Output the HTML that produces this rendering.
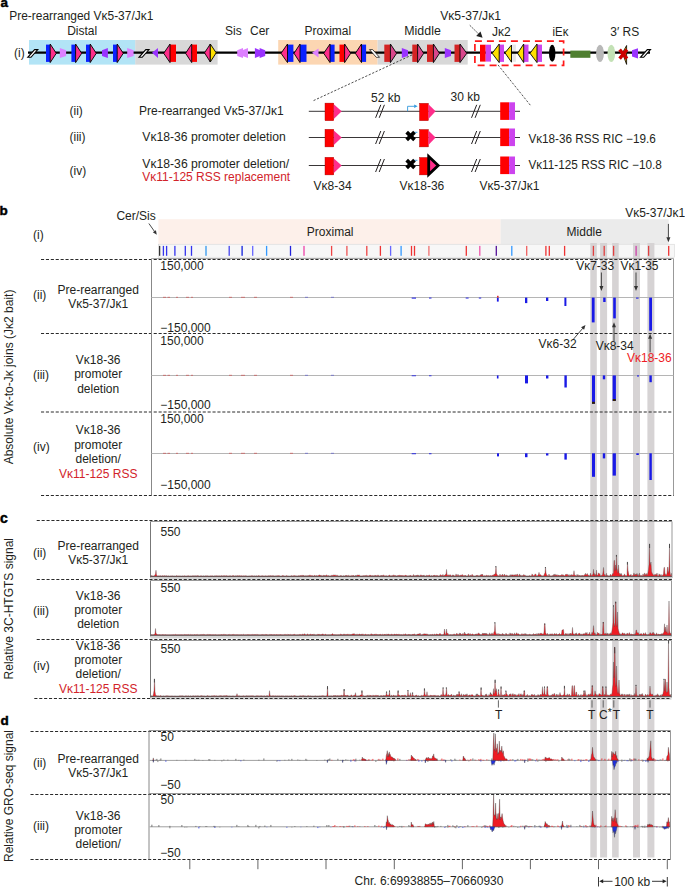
<!DOCTYPE html>
<html><head><meta charset="utf-8"><style>
html,body{margin:0;padding:0;background:#fff;width:685px;height:887px;overflow:hidden}
svg{display:block}
text{font-family:"Liberation Sans", sans-serif}
</style></head><body>
<svg width="685" height="887" viewBox="0 0 685 887">
<text x="0.5" y="7.4" font-size="13.5" fill="#000" font-weight="bold" stroke="#000" stroke-width="0.45">a</text>
<text x="9.3" y="20.3" font-size="12" fill="#231f20" textLength="144" lengthAdjust="spacingAndGlyphs">Pre-rearranged Vκ5-37/Jκ1</text>
<text x="67.2" y="35" font-size="12" fill="#231f20">Distal</text>
<text x="225" y="35.4" font-size="12" fill="#231f20">Sis</text>
<text x="250" y="35.4" font-size="12" fill="#231f20">Cer</text>
<text x="304.5" y="35.4" font-size="12" fill="#231f20">Proximal</text>
<text x="404.3" y="35.4" font-size="12" fill="#231f20" textLength="36.5" lengthAdjust="spacingAndGlyphs">Middle</text>
<text x="440.2" y="20.4" font-size="12" fill="#231f20" textLength="60.8" lengthAdjust="spacingAndGlyphs">Vκ5-37/Jκ1</text>
<text x="492" y="36.1" font-size="12" fill="#231f20">Jκ2</text>
<text x="552.6" y="36.1" font-size="12" fill="#231f20" textLength="15.8" lengthAdjust="spacingAndGlyphs">iEκ</text>
<text x="610.3" y="36.1" font-size="12" fill="#231f20">3′ RS</text>
<line x1="469.8" y1="25.3" x2="479.3" y2="34.6" stroke="#222" stroke-width="1.0" stroke-dasharray="1.4,1.3"/>
<polygon points="482.6,37.8 476.2,35.9 480.5,31.5" fill="#222"/>
<rect x="29" y="40" width="106.5" height="24.6" fill="#b2e4f6"/>
<rect x="135.3" y="40" width="82.3" height="24.6" fill="#d8d8d8"/>
<rect x="278.2" y="40" width="99.4" height="24.6" fill="#fcd6b2"/>
<rect x="377.6" y="40" width="90.1" height="24.6" fill="#d8d8d8"/>
<rect x="512.3" y="44.6" width="3.6" height="17.2" fill="#e6e6e6"/>
<line x1="28" y1="52.6" x2="650" y2="52.6" stroke="#000" stroke-width="2.2"/>
<polygon points="27.8,57.3 31,57.3 37.8,49.6 34.6,49.6" fill="#fff" stroke="#000" stroke-width="1.1" stroke-linejoin="miter"/>
<rect x="46" y="44.6" width="4.2" height="17.3" fill="#0a22ff"/>
<polygon points="50.2,44 56.3,53.3 50.2,62.6" fill="#ff2d8a" stroke="#000" stroke-width="0.9" stroke-linejoin="miter"/>
<polygon points="59.8,48.1 66.1,50.3 66.1,56 59.8,58" fill="#dd80ff"/>
<rect x="71.4" y="44.6" width="4.2" height="17.3" fill="#0a22ff"/>
<polygon points="75.6,44 81.7,53.3 75.6,62.6" fill="#ff2d8a" stroke="#000" stroke-width="0.9" stroke-linejoin="miter"/>
<rect x="86" y="44.6" width="4.2" height="17.3" fill="#0a22ff"/>
<polygon points="90.2,44 96.3,53.3 90.2,62.6" fill="#ff2d8a" stroke="#000" stroke-width="0.9" stroke-linejoin="miter"/>
<polygon points="102,50.3 107.9,48.1 107.9,58 102,56" fill="#9a33ff"/>
<rect x="113" y="44.6" width="4.2" height="17.3" fill="#0a22ff"/>
<polygon points="117.2,44 123.3,53.3 117.2,62.6" fill="#ff2d8a" stroke="#000" stroke-width="0.9" stroke-linejoin="miter"/>
<polygon points="127.2,48.1 133.6,50.3 133.6,56 127.2,58" fill="#dd80ff"/>
<polygon points="139,57.3 142.2,57.3 149,49.6 145.8,49.6" fill="#fff" stroke="#000" stroke-width="1.1" stroke-linejoin="miter"/>
<polygon points="152,52.8 158,48.1 158,58" fill="#9a33ff"/>
<rect x="170" y="44.6" width="6" height="17.3" fill="#ff0000"/>
<polygon points="170,44 163.7,53.3 170,62.6" fill="#ff2d8a" stroke="#000" stroke-width="0.9" stroke-linejoin="miter"/>
<rect x="191.7" y="44.6" width="5.3" height="17.3" fill="#ff0000"/>
<polygon points="191.7,44 185.6,53.3 191.7,62.6" fill="#ff2d8a" stroke="#000" stroke-width="0.9" stroke-linejoin="miter"/>
<polygon points="204.5,52.8 210.3,44 210.3,62" fill="#ff2d8a" stroke="#000" stroke-width="0.9" stroke-linejoin="miter"/>
<polygon points="210.3,44 216.2,52.8 210.3,62" fill="#ffe100" stroke="#000" stroke-width="0.9" stroke-linejoin="miter"/>
<polygon points="237.2,50.3 243,48.1 243,58 237.2,56" fill="#dd80ff"/>
<polygon points="242.4,50.3 248,48.1 248,58 242.4,56" fill="#dd80ff"/>
<polygon points="254.9,48.1 260.2,50.3 260.2,56 254.9,58" fill="#9a33ff"/>
<polygon points="259.6,48.1 265.2,50.3 265.2,56 259.6,58" fill="#9a33ff"/>
<rect x="287.5" y="44.6" width="5.9" height="17.3" fill="#0a22ff"/>
<polygon points="287.5,44 281,53.3 287.5,62.6" fill="#ff2d8a" stroke="#000" stroke-width="0.9" stroke-linejoin="miter"/>
<rect x="300" y="44.6" width="6.5" height="17.3" fill="#0a22ff"/>
<polygon points="300,44 294,53.3 300,62.6" fill="#ff2d8a" stroke="#000" stroke-width="0.9" stroke-linejoin="miter"/>
<polygon points="312,52.8 318.5,48.5 318.5,57.5" fill="#dd80ff"/>
<rect x="330" y="44.6" width="4.6" height="17.3" fill="#0a22ff"/>
<polygon points="330,44 323.7,53.3 330,62.6" fill="#ff2d8a" stroke="#000" stroke-width="0.9" stroke-linejoin="miter"/>
<rect x="339.5" y="44.6" width="5.1" height="17.3" fill="#ff0000"/>
<polygon points="344.6,44 350.7,53.3 344.6,62.6" fill="#ff2d8a" stroke="#000" stroke-width="0.9" stroke-linejoin="miter"/>
<rect x="361.5" y="44.6" width="4.6" height="17.3" fill="#0a22ff"/>
<polygon points="361.5,44 355.4,53.3 361.5,62.6" fill="#ff2d8a" stroke="#000" stroke-width="0.9" stroke-linejoin="miter"/>
<polygon points="369.5,49.6 372.7,49.6 379.5,57.3 376.3,57.3" fill="#fff" stroke="#000" stroke-width="0.7" stroke-linejoin="miter"/>
<rect x="384.3" y="44.6" width="6.1" height="17.3" fill="#d42424"/>
<polygon points="390.4,44 396.6,53.3 390.4,62.6" fill="#d9478c" stroke="#000" stroke-width="0.9" stroke-linejoin="miter"/>
<polygon points="401.8,48.1 408,50.3 408,56 401.8,58" fill="#9a33ff"/>
<rect x="412.3" y="44.6" width="5.3" height="17.3" fill="#d42424"/>
<polygon points="417.6,44 423.7,53.3 417.6,62.6" fill="#d9478c" stroke="#000" stroke-width="0.9" stroke-linejoin="miter"/>
<rect x="427" y="44.6" width="6.4" height="17.3" fill="#d42424"/>
<polygon points="433.4,44 439.5,53.3 433.4,62.6" fill="#d9478c" stroke="#000" stroke-width="0.9" stroke-linejoin="miter"/>
<polygon points="444.8,48.1 451,50.3 451,56 444.8,58" fill="#9a33ff"/>
<rect x="454.5" y="44.6" width="5.5" height="17.3" fill="#d42424"/>
<polygon points="460,44 466.8,53.3 460,62.6" fill="#d9478c" stroke="#000" stroke-width="0.9" stroke-linejoin="miter"/>
<rect x="480" y="44.7" width="5.7" height="16.9" fill="#ff0000"/>
<rect x="485.7" y="44.7" width="5.3" height="16.9" fill="#cc44ee"/>
<rect x="499.2" y="44.6" width="4.8" height="17.3" fill="#cc44ee"/>
<polygon points="499.2,44 492.2,53.3 499.2,62.6" fill="#ffe100" stroke="#000" stroke-width="0.9" stroke-linejoin="miter"/>
<polygon points="505,52.8 511.5,45 511.5,62.2" fill="#ffe100" stroke="#000" stroke-width="0.9" stroke-linejoin="miter"/>
<rect x="523.7" y="44.6" width="4.8" height="17.3" fill="#cc44ee"/>
<polygon points="523.7,44 517.6,53.3 523.7,62.6" fill="#ffe100" stroke="#000" stroke-width="0.9" stroke-linejoin="miter"/>
<rect x="537" y="44.6" width="5" height="17.3" fill="#cc44ee"/>
<polygon points="537,44 530,53.3 537,62.6" fill="#ffe100" stroke="#000" stroke-width="0.9" stroke-linejoin="miter"/>
<ellipse cx="552.2" cy="53.2" rx="3.2" ry="8.5" fill="#000"/>
<rect x="474.9" y="41.1" width="88.7" height="24.3" fill="none" stroke="#ff1a1a" stroke-width="1.7" stroke-dasharray="7,5"/>
<rect x="570.3" y="50.6" width="20.1" height="7.2" fill="#4f7f30"/>
<ellipse cx="600" cy="53.4" rx="3.9" ry="8.7" fill="#b8b8b8"/>
<ellipse cx="611.3" cy="53.4" rx="3.8" ry="8.7" fill="#c3e1b5"/>
<polygon points="622.4,53 626.6,45.5 626.6,64.4" fill="#f0b000" stroke="#000" stroke-width="0.8" stroke-linejoin="miter"/>
<line x1="619.6" y1="49.6" x2="627" y2="58.6" stroke="#cc0000" stroke-width="3.3"/>
<line x1="627" y1="49.6" x2="619.6" y2="58.6" stroke="#cc0000" stroke-width="3.3"/>
<polygon points="632,50.3 638,48.3 638,58.4 632,56.6" fill="#9a33ff"/>
<polygon points="640.5,57.3 643.7,57.3 650.5,49.6 647.3,49.6" fill="#fff" stroke="#000" stroke-width="1.1" stroke-linejoin="miter"/>
<line x1="412.1" y1="54.9" x2="313.1" y2="100.8" stroke="#222" stroke-width="0.8" stroke-dasharray="2.2,1.6"/>
<line x1="498" y1="64.9" x2="531.3" y2="106.4" stroke="#222" stroke-width="0.8" stroke-dasharray="2.2,1.6"/>
<line x1="308.8" y1="111.3" x2="520" y2="111.3" stroke="#231f20" stroke-width="0.9"/>
<rect x="325" y="103.1" width="8.8" height="17.6" fill="#ff0000" stroke="#900" stroke-width="0.4"/>
<polygon points="333.8,104.3 341.7,111.3 333.8,118.9" fill="#ff2d8a"/>
<line x1="375.6" y1="117.8" x2="380.8" y2="104.8" stroke="#231f20" stroke-width="1.0"/>
<line x1="379.2" y1="117.8" x2="384.4" y2="104.8" stroke="#231f20" stroke-width="1.0"/>
<line x1="471.5" y1="117.8" x2="476.7" y2="104.8" stroke="#231f20" stroke-width="1.0"/>
<line x1="475.1" y1="117.8" x2="480.3" y2="104.8" stroke="#231f20" stroke-width="1.0"/>
<rect x="419.5" y="103.3" width="8.9" height="17.4" fill="#ff0000" stroke="#900" stroke-width="0.4"/>
<polygon points="428.4,104.3 435.6,111.3 428.4,118.9" fill="#ff2d8a"/>
<rect x="500.2" y="102.3" width="8.9" height="17.6" fill="#ff0000"/>
<rect x="509.1" y="102.3" width="5.9" height="17.6" fill="#cc44ee"/>
<polyline points="407.6,111.3 407.6,106.3 414.5,106.3" fill="none" stroke="#3399dd" stroke-width="0.9"/>
<polygon points="417.6,106.3 414.2,104.5 414.2,108.1" fill="#3399dd"/>
<line x1="308.8" y1="137.5" x2="520" y2="137.5" stroke="#231f20" stroke-width="0.9"/>
<rect x="325" y="129.3" width="8.8" height="17.6" fill="#ff0000" stroke="#900" stroke-width="0.4"/>
<polygon points="333.8,130.5 341.7,137.5 333.8,145.1" fill="#ff2d8a"/>
<line x1="375.6" y1="144" x2="380.8" y2="131" stroke="#231f20" stroke-width="1.0"/>
<line x1="379.2" y1="144" x2="384.4" y2="131" stroke="#231f20" stroke-width="1.0"/>
<line x1="471.5" y1="144" x2="476.7" y2="131" stroke="#231f20" stroke-width="1.0"/>
<line x1="475.1" y1="144" x2="480.3" y2="131" stroke="#231f20" stroke-width="1.0"/>
<rect x="419.5" y="129.5" width="8.9" height="17.4" fill="#ff0000" stroke="#900" stroke-width="0.4"/>
<polygon points="428.4,130.5 435.6,137.5 428.4,145.1" fill="#ff2d8a"/>
<rect x="500.2" y="128.5" width="8.9" height="17.6" fill="#ff0000"/>
<rect x="509.1" y="128.5" width="5.9" height="17.6" fill="#cc44ee"/>
<polyline points="414.2,132.3 417.4,132.3" fill="none" stroke="#3399dd" stroke-width="0.9"/>
<line x1="406.7" y1="132.1" x2="414.5" y2="139.9" stroke="#000" stroke-width="3.7"/>
<line x1="406.7" y1="139.9" x2="414.5" y2="132.1" stroke="#000" stroke-width="3.7"/>
<line x1="308.8" y1="165.5" x2="520" y2="165.5" stroke="#231f20" stroke-width="0.9"/>
<rect x="325" y="157.3" width="8.8" height="17.6" fill="#ff0000" stroke="#900" stroke-width="0.4"/>
<polygon points="333.8,158.5 341.7,165.5 333.8,173.1" fill="#ff2d8a"/>
<line x1="375.6" y1="172" x2="380.8" y2="159" stroke="#231f20" stroke-width="1.0"/>
<line x1="379.2" y1="172" x2="384.4" y2="159" stroke="#231f20" stroke-width="1.0"/>
<line x1="471.5" y1="172" x2="476.7" y2="159" stroke="#231f20" stroke-width="1.0"/>
<line x1="475.1" y1="172" x2="480.3" y2="159" stroke="#231f20" stroke-width="1.0"/>
<rect x="419.5" y="157.5" width="8.9" height="17.4" fill="#ff0000" stroke="#900" stroke-width="0.4"/>
<polygon points="428.7,156.5 438.2,165.5 428.7,174.5" fill="#ff2d8a" stroke="#000" stroke-width="2.8" stroke-linejoin="miter"/>
<rect x="500.2" y="156.5" width="8.9" height="17.6" fill="#ff0000"/>
<rect x="509.1" y="156.5" width="5.9" height="17.6" fill="#cc44ee"/>
<polyline points="414.2,160.3 417.4,160.3" fill="none" stroke="#3399dd" stroke-width="0.9"/>
<line x1="406.7" y1="160.1" x2="414.5" y2="167.9" stroke="#000" stroke-width="3.7"/>
<line x1="406.7" y1="167.9" x2="414.5" y2="160.1" stroke="#000" stroke-width="3.7"/>
<text x="371" y="101.6" font-size="12" fill="#231f20">52 kb</text>
<text x="450.6" y="101.1" font-size="12" fill="#231f20">30 kb</text>
<text x="528.4" y="143.2" font-size="12" fill="#231f20" textLength="127.4" lengthAdjust="spacingAndGlyphs">Vκ18-36 RSS RIC −19.6</text>
<text x="528.4" y="169.2" font-size="12" fill="#231f20" textLength="133.5" lengthAdjust="spacingAndGlyphs">Vκ11-125 RSS RIC −10.8</text>
<text x="313.6" y="189.5" font-size="12" fill="#231f20">Vκ8-34</text>
<text x="399.6" y="189.5" font-size="12" fill="#231f20">Vκ18-36</text>
<text x="479.5" y="189.5" font-size="12" fill="#231f20">Vκ5-37/Jκ1</text>
<text x="14" y="57" font-size="12" fill="#231f20">(i)</text>
<text x="69.5" y="115" font-size="12" fill="#231f20">(ii)</text>
<text x="139" y="115.2" font-size="12" fill="#231f20">Pre-rearranged Vκ5-37/Jκ1</text>
<text x="69.5" y="140.8" font-size="12" fill="#231f20">(iii)</text>
<text x="142.3" y="141.2" font-size="12" fill="#231f20" textLength="143.4" lengthAdjust="spacingAndGlyphs">Vκ18-36 promoter deletion</text>
<text x="69.5" y="175" font-size="12" fill="#231f20">(iv)</text>
<text x="142.3" y="167.8" font-size="12" fill="#231f20" textLength="146.9" lengthAdjust="spacingAndGlyphs">Vκ18-36 promoter deletion/</text>
<text x="142.3" y="181.1" font-size="12" fill="#d2232a">Vκ11-125 RSS replacement</text>
<text x="-0.6" y="214.5" font-size="13.5" fill="#000" font-weight="bold" stroke="#000" stroke-width="0.45">b</text>
<text x="116.4" y="220.3" font-size="12" fill="#231f20">Cer/Sis</text>
<line x1="148.9" y1="223.5" x2="154.67" y2="231.68" stroke="#333" stroke-width="0.9"/>
<polygon points="156.8,234.7 152.83,232.36 155.93,230.17" fill="#333"/>
<text x="33" y="239.3" font-size="12" fill="#231f20">(i)</text>
<rect x="158.4" y="219.2" width="342.3" height="25" fill="#fdf0ea"/>
<rect x="500.7" y="219.2" width="168" height="25" fill="#ebebeb"/>
<text x="306.8" y="235.5" font-size="12" fill="#231f20">Proximal</text>
<text x="566.6" y="235.6" font-size="12" fill="#231f20">Middle</text>
<text x="625.2" y="216.9" font-size="12" fill="#231f20">Vκ5-37/Jκ1</text>
<line x1="668.4" y1="223.9" x2="668.4" y2="237.7" stroke="#333" stroke-width="0.9"/>
<polygon points="668.4,242.2 666.4,237.2 670.4,237.2" fill="#333"/>
<rect x="158.4" y="244.2" width="515.9" height="13" fill="#f7f7f7" stroke="#d0d0d0" stroke-width="0.5"/>
<rect x="590.3" y="243" width="6.5" height="614.5" fill="#d6d3d4"/>
<rect x="600.1" y="243" width="7" height="614.5" fill="#d6d3d4"/>
<rect x="612.1" y="243" width="6.6" height="614.5" fill="#d6d3d4"/>
<rect x="633" y="243" width="7" height="614.5" fill="#d6d3d4"/>
<rect x="647.4" y="243" width="7" height="614.5" fill="#d6d3d4"/>
<rect x="158.95" y="245.9" width="1.3" height="9.9" fill="#333"/>
<rect x="162.75" y="245.9" width="1.3" height="9.9" fill="#3333ee"/>
<rect x="165.95" y="245.9" width="1.3" height="9.9" fill="#3333ee"/>
<rect x="174.25" y="245.9" width="1.3" height="9.9" fill="#3333ee"/>
<rect x="184.65" y="245.9" width="1.3" height="9.9" fill="#3333ee"/>
<rect x="190.85" y="245.9" width="1.3" height="9.9" fill="#3333ee"/>
<rect x="205.35" y="245.9" width="1.3" height="9.9" fill="#3399ee"/>
<rect x="228.55" y="245.9" width="1.3" height="9.9" fill="#4444ee"/>
<rect x="241.45" y="245.9" width="1.3" height="9.9" fill="#1122dd"/>
<rect x="252.05" y="245.9" width="1.3" height="9.9" fill="#6666ff"/>
<rect x="265.95" y="245.9" width="1.3" height="9.9" fill="#3399ff"/>
<rect x="289.85" y="245.9" width="1.3" height="9.9" fill="#2222dd"/>
<rect x="303.35" y="245.9" width="1.3" height="9.9" fill="#ee44aa"/>
<rect x="330.95" y="245.9" width="1.3" height="9.9" fill="#ee4444"/>
<rect x="346.25" y="245.9" width="1.3" height="9.9" fill="#ee5555"/>
<rect x="366.15" y="245.9" width="1.3" height="9.9" fill="#ee4444"/>
<rect x="379.75" y="245.9" width="1.3" height="9.9" fill="#ee3333"/>
<rect x="389.95" y="245.9" width="1.3" height="9.9" fill="#6666ff"/>
<rect x="400.45" y="245.9" width="1.3" height="9.9" fill="#3399ff"/>
<rect x="410.85" y="245.9" width="1.3" height="9.9" fill="#ee3333"/>
<rect x="413.85" y="245.9" width="1.3" height="9.9" fill="#ee3333"/>
<rect x="428.25" y="245.9" width="1.3" height="9.9" fill="#f07070"/>
<rect x="465.65" y="245.9" width="1.3" height="9.9" fill="#ee3333"/>
<rect x="479.15" y="245.9" width="1.3" height="9.9" fill="#ee55aa"/>
<rect x="495.65" y="245.9" width="1.3" height="9.9" fill="#551199"/>
<rect x="511.15" y="245.9" width="1.3" height="9.9" fill="#3399ff"/>
<rect x="526.05" y="245.9" width="1.3" height="9.9" fill="#f06060"/>
<rect x="545.25" y="245.9" width="1.3" height="9.9" fill="#ee3333"/>
<rect x="548.65" y="245.9" width="1.3" height="9.9" fill="#ee3333"/>
<rect x="563.95" y="245.9" width="1.3" height="9.9" fill="#ee3333"/>
<rect x="592.75" y="245.9" width="1.3" height="9.9" fill="#e04040"/>
<rect x="603.55" y="245.9" width="1.3" height="9.9" fill="#e04040"/>
<rect x="612.95" y="245.9" width="1.3" height="9.9" fill="#e04040"/>
<rect x="635.45" y="245.9" width="1.3" height="9.9" fill="#cc44aa"/>
<rect x="647.95" y="245.9" width="1.3" height="9.9" fill="#e04040"/>
<rect x="668.05" y="245.9" width="1.3" height="9.9" fill="#ee3333"/>
<line x1="41" y1="259.5" x2="674" y2="259.5" stroke="#2a2a2a" stroke-width="1" stroke-dasharray="3.1,1.8"/>
<line x1="41" y1="333.5" x2="674" y2="333.5" stroke="#2a2a2a" stroke-width="1" stroke-dasharray="3.1,1.8"/>
<line x1="41" y1="412" x2="674" y2="412" stroke="#2a2a2a" stroke-width="1" stroke-dasharray="3.1,1.8"/>
<line x1="41" y1="495.5" x2="674" y2="495.5" stroke="#2a2a2a" stroke-width="1" stroke-dasharray="3.1,1.8"/>
<line x1="151.5" y1="258.5" x2="151.5" y2="495.5" stroke="#888" stroke-width="1"/>
<line x1="673.5" y1="258.5" x2="673.5" y2="495.5" stroke="#999" stroke-width="1"/>
<line x1="151.5" y1="258.5" x2="673.5" y2="258.5" stroke="#aaa" stroke-width="1"/>
<line x1="151.5" y1="297.5" x2="673.5" y2="297.5" stroke="#b5b5b5" stroke-width="1"/>
<line x1="151.5" y1="375.5" x2="673.5" y2="375.5" stroke="#b5b5b5" stroke-width="1"/>
<line x1="151.5" y1="453.5" x2="673.5" y2="453.5" stroke="#b5b5b5" stroke-width="1"/>
<text x="160.3" y="270.4" font-size="12" fill="#231f20">150,000</text>
<text x="160.3" y="345.3" font-size="12" fill="#231f20">150,000</text>
<text x="160.3" y="423" font-size="12" fill="#231f20">150,000</text>
<text x="160.3" y="331.6" font-size="12" fill="#231f20">−150,000</text>
<text x="160.3" y="409" font-size="12" fill="#231f20">−150,000</text>
<text x="160.3" y="489.4" font-size="12" fill="#231f20">−150,000</text>
<rect x="496.9" y="297.6" width="1.8" height="4" fill="#1a1ae6"/>
<rect x="525" y="297.6" width="2.3" height="5.5" fill="#1a1ae6"/>
<rect x="546" y="297.6" width="2.3" height="3.4" fill="#1a1ae6"/>
<rect x="564.4" y="297.6" width="2" height="8.4" fill="#1a1ae6"/>
<rect x="591.8" y="297.6" width="2.8" height="24.8" fill="#1a1ae6"/>
<rect x="603.2" y="297.6" width="2.4" height="4.4" fill="#1a1ae6"/>
<rect x="613.2" y="297.6" width="2.6" height="20.8" fill="#1a1ae6"/>
<rect x="636" y="297.6" width="2.6" height="1" fill="#1a1ae6"/>
<rect x="649.2" y="297.6" width="2.8" height="33.1" fill="#1a1ae6"/>
<rect x="411.7" y="297.6" width="4.3" height="1" fill="#1a1ae6"/>
<rect x="429" y="297.6" width="2.5" height="0.9" fill="#1a1ae6"/>
<rect x="465.7" y="297.6" width="2.9" height="0.9" fill="#1a1ae6"/>
<rect x="478.8" y="297.6" width="2.4" height="0.9" fill="#1a1ae6"/>
<rect x="497" y="295.8" width="1.6" height="1.8" fill="#e03030"/>
<rect x="496.9" y="375.4" width="1.6" height="3.1" fill="#1a1ae6"/>
<rect x="525" y="375.4" width="3" height="8" fill="#1a1ae6"/>
<rect x="546" y="375.4" width="2.4" height="3.1" fill="#1a1ae6"/>
<rect x="564.4" y="375.4" width="2.4" height="12.1" fill="#1a1ae6"/>
<rect x="592" y="375.4" width="3" height="28.4" fill="#1a1ae6"/>
<rect x="602.8" y="375.4" width="2.4" height="3.9" fill="#1a1ae6"/>
<rect x="612.6" y="375.4" width="3.3" height="25.6" fill="#1a1ae6"/>
<rect x="637" y="375.4" width="2" height="1.1" fill="#1a1ae6"/>
<rect x="649.4" y="375.4" width="2.4" height="6.8" fill="#1a1ae6"/>
<rect x="411.7" y="375.4" width="4.3" height="0.8" fill="#1a1ae6"/>
<rect x="429" y="375.4" width="2.5" height="0.8" fill="#1a1ae6"/>
<rect x="497" y="453.3" width="2" height="3.1" fill="#1a1ae6"/>
<rect x="525" y="453.3" width="2.5" height="3.9" fill="#1a1ae6"/>
<rect x="546" y="453.3" width="2.4" height="2.2" fill="#1a1ae6"/>
<rect x="564.4" y="453.3" width="2.4" height="6.3" fill="#1a1ae6"/>
<rect x="592" y="453.3" width="3" height="23.5" fill="#1a1ae6"/>
<rect x="602.8" y="453.3" width="2.4" height="5.1" fill="#1a1ae6"/>
<rect x="612.6" y="453.3" width="3.3" height="22.3" fill="#1a1ae6"/>
<rect x="636.3" y="453.3" width="2.5" height="1.7" fill="#1a1ae6"/>
<rect x="649.4" y="453.3" width="2.4" height="26.7" fill="#1a1ae6"/>
<rect x="411.7" y="453.3" width="4.3" height="0.9" fill="#1a1ae6"/>
<rect x="429" y="453.3" width="2.5" height="0.9" fill="#1a1ae6"/>
<rect x="163" y="296.8" width="3" height="1" fill="#d04040" opacity="0.6"/>
<rect x="167.5" y="296.8" width="2.5" height="1" fill="#d04040" opacity="0.6"/>
<rect x="176" y="296.8" width="2" height="1" fill="#d04040" opacity="0.6"/>
<rect x="186" y="296.8" width="3" height="1" fill="#d04040" opacity="0.6"/>
<rect x="191" y="296.8" width="2" height="1" fill="#d04040" opacity="0.6"/>
<rect x="229" y="296.8" width="3" height="1" fill="#d04040" opacity="0.6"/>
<rect x="241" y="296.8" width="4" height="1" fill="#d04040" opacity="0.6"/>
<rect x="254" y="296.8" width="3" height="1" fill="#d04040" opacity="0.6"/>
<rect x="290" y="296.8" width="3" height="1" fill="#d04040" opacity="0.6"/>
<rect x="305" y="296.8" width="3" height="1" fill="#5050d0" opacity="0.6"/>
<rect x="331" y="296.8" width="3" height="1" fill="#5050d0" opacity="0.6"/>
<rect x="163" y="374.8" width="3" height="1" fill="#d04040" opacity="0.6"/>
<rect x="167.5" y="374.8" width="2.5" height="1" fill="#d04040" opacity="0.6"/>
<rect x="176" y="374.8" width="2" height="1" fill="#d04040" opacity="0.6"/>
<rect x="186" y="374.8" width="3" height="1" fill="#d04040" opacity="0.6"/>
<rect x="191" y="374.8" width="2" height="1" fill="#d04040" opacity="0.6"/>
<rect x="229" y="374.8" width="3" height="1" fill="#d04040" opacity="0.6"/>
<rect x="241" y="374.8" width="4" height="1" fill="#d04040" opacity="0.6"/>
<rect x="254" y="374.8" width="3" height="1" fill="#d04040" opacity="0.6"/>
<rect x="290" y="374.8" width="3" height="1" fill="#d04040" opacity="0.6"/>
<rect x="305" y="374.8" width="3" height="1" fill="#5050d0" opacity="0.6"/>
<rect x="331" y="374.8" width="3" height="1" fill="#5050d0" opacity="0.6"/>
<rect x="163" y="452.8" width="3" height="1" fill="#d04040" opacity="0.6"/>
<rect x="167.5" y="452.8" width="2.5" height="1" fill="#d04040" opacity="0.6"/>
<rect x="176" y="452.8" width="2" height="1" fill="#d04040" opacity="0.6"/>
<rect x="186" y="452.8" width="3" height="1" fill="#d04040" opacity="0.6"/>
<rect x="191" y="452.8" width="2" height="1" fill="#d04040" opacity="0.6"/>
<rect x="229" y="452.8" width="3" height="1" fill="#d04040" opacity="0.6"/>
<rect x="241" y="452.8" width="4" height="1" fill="#d04040" opacity="0.6"/>
<rect x="254" y="452.8" width="3" height="1" fill="#d04040" opacity="0.6"/>
<rect x="290" y="452.8" width="3" height="1" fill="#d04040" opacity="0.6"/>
<rect x="305" y="452.8" width="3" height="1" fill="#5050d0" opacity="0.6"/>
<rect x="331" y="452.8" width="3" height="1" fill="#5050d0" opacity="0.6"/>
<rect x="592" y="401.8" width="2.9" height="2" fill="#332200"/>
<rect x="612.8" y="399" width="2.9" height="2" fill="#332200"/>
<text x="576.2" y="270.4" font-size="12" fill="#231f20">Vκ7-33</text>
<text x="620.5" y="270.4" font-size="12" fill="#231f20">Vκ1-35</text>
<line x1="601.4" y1="272.5" x2="601.4" y2="286.5" stroke="#333" stroke-width="0.9"/>
<polygon points="601.4,291 599.4,286 603.4,286" fill="#333"/>
<line x1="636" y1="272.5" x2="636" y2="286.5" stroke="#333" stroke-width="0.9"/>
<polygon points="636,291 634,286 638,286" fill="#333"/>
<line x1="573.5" y1="339.1" x2="582.9" y2="328.14" stroke="#333" stroke-width="0.9"/>
<polygon points="585.5,325.1 584.09,329.82 581.05,327.22" fill="#333"/>
<line x1="614" y1="341" x2="614" y2="326.7" stroke="#333" stroke-width="0.9"/>
<polygon points="614,322.2 616,327.2 612,327.2" fill="#333"/>
<line x1="650.1" y1="352.3" x2="650.1" y2="338.3" stroke="#333" stroke-width="0.9"/>
<polygon points="650.1,333.8 652.1,338.8 648.1,338.8" fill="#333"/>
<text x="538.6" y="347.5" font-size="12" fill="#231f20">Vκ6-32</text>
<text x="595.7" y="349.5" font-size="12" fill="#231f20">Vκ8-34</text>
<text x="627" y="362" font-size="12" fill="#ee1c24">Vκ18-36</text>
<text x="33" y="299" font-size="12" fill="#231f20">(ii)</text>
<text x="98.2" y="294.2" font-size="12" fill="#231f20" text-anchor="middle">Pre-rearranged</text>
<text x="98.2" y="308.3" font-size="12" fill="#231f20" text-anchor="middle">Vκ5-37/Jκ1</text>
<text x="33" y="378.5" font-size="12" fill="#231f20">(iii)</text>
<text x="98.2" y="364" font-size="12" fill="#231f20" text-anchor="middle">Vκ18-36</text>
<text x="98.2" y="378.4" font-size="12" fill="#231f20" text-anchor="middle">promoter</text>
<text x="98.2" y="392.5" font-size="12" fill="#231f20" text-anchor="middle">deletion</text>
<text x="33" y="451" font-size="12" fill="#231f20">(iv)</text>
<text x="98.2" y="434.2" font-size="12" fill="#231f20" text-anchor="middle">Vκ18-36</text>
<text x="98.2" y="448.6" font-size="12" fill="#231f20" text-anchor="middle">promoter</text>
<text x="98.2" y="462.8" font-size="12" fill="#231f20" text-anchor="middle">deletion/</text>
<text x="98.2" y="478.1" font-size="12" fill="#d2232a" text-anchor="middle">Vκ11-125 RSS</text>
<text x="12.9" y="377" font-size="12" fill="#231f20" text-anchor="middle" transform="rotate(-90 12.9 377)">Absolute Vκ-to-Jκ joins (Jκ2 bait)</text>
<text x="0.1" y="522.8" font-size="14" fill="#000" font-weight="bold" stroke="#000" stroke-width="0.45">c</text>
<text x="12.9" y="608.7" font-size="12" fill="#231f20" text-anchor="middle" transform="rotate(-90 12.9 608.7)">Relative 3C-HTGTS signal</text>
<line x1="150.5" y1="521.5" x2="150.5" y2="577.9" stroke="#777" stroke-width="1"/>
<line x1="150.4" y1="521.5" x2="672" y2="521.5" stroke="#999" stroke-width="1"/>
<line x1="672" y1="521.5" x2="672" y2="577.9" stroke="#999" stroke-width="1"/>
<rect x="150.4" y="576.9" width="521.6" height="2.8" fill="#d6d6d6"/>
<path d="M151,576.4 L151,575.88 L151.5,575.62 L152,575.86 L152.5,575.94 L153,575.81 L153.5,575.95 L154,575.95 L154.5,575.56 L155,575.12 L155.5,573.76 L156,570.2 L156.5,575.06 L157,575.61 L157.5,575.95 L158,575.89 L158.5,575.86 L159,575.87 L159.5,575.88 L160,575.56 L160.5,575.68 L161,575.92 L161.5,575.92 L162,575.73 L162.5,575.68 L163,575.6 L163.5,575.95 L164,575.63 L164.5,575.58 L165,575.95 L165.5,575.73 L166,575.95 L166.5,575.59 L167,575.95 L167.5,575.95 L168,575.71 L168.5,575.84 L169,575.94 L169.5,575.95 L170,575.95 L170.5,575.94 L171,575.58 L171.5,575.92 L172,575.94 L172.5,575.67 L173,575.95 L173.5,575.94 L174,575.73 L174.5,575.92 L175,575.95 L175.5,575.93 L176,575.91 L176.5,575.59 L177,575.83 L177.5,575.94 L178,575.63 L178.5,575.93 L179,575.75 L179.5,575.94 L180,575.65 L180.5,575.89 L181,575.95 L181.5,575.93 L182,575.93 L182.5,575.82 L183,575.94 L183.5,575.95 L184,575.84 L184.5,575.82 L185,575.63 L185.5,575.95 L186,575.88 L186.5,575.94 L187,575.84 L187.5,575.91 L188,575.58 L188.5,575.78 L189,575.94 L189.5,575.95 L190,575.77 L190.5,575.95 L191,575.87 L191.5,575.92 L192,575.95 L192.5,575.75 L193,575.75 L193.5,575.72 L194,575.91 L194.5,575.64 L195,575.89 L195.5,575.67 L196,575.81 L196.5,575.83 L197,575.95 L197.5,575.57 L198,575.76 L198.5,575.75 L199,575.89 L199.5,575.95 L200,575.95 L200.5,575.87 L201,575.77 L201.5,575.82 L202,575.93 L202.5,575.92 L203,575.94 L203.5,575.64 L204,575.89 L204.5,575.92 L205,575.94 L205.5,575.71 L206,575.66 L206.5,575.83 L207,575.95 L207.5,575.69 L208,575.77 L208.5,575.93 L209,575.88 L209.5,575.94 L210,575.81 L210.5,575.92 L211,575.58 L211.5,575.95 L212,575.66 L212.5,575.77 L213,575.92 L213.5,575.95 L214,575.88 L214.5,575.69 L215,575.94 L215.5,575.81 L216,575.81 L216.5,575.71 L217,575.78 L217.5,575.87 L218,575.95 L218.5,575.76 L219,575.93 L219.5,575.77 L220,575.82 L220.5,575.9 L221,575.64 L221.5,575.62 L222,575.95 L222.5,575.81 L223,575.9 L223.5,575.66 L224,575.61 L224.5,575.8 L225,575.76 L225.5,575.8 L226,575.94 L226.5,575.58 L227,575.85 L227.5,575.92 L228,575.67 L228.5,575.95 L229,575.85 L229.5,575.87 L230,575.71 L230.5,575.71 L231,575.91 L231.5,575.94 L232,575.86 L232.5,575.68 L233,575.61 L233.5,575.6 L234,575.94 L234.5,575.92 L235,575.8 L235.5,575.68 L236,575.92 L236.5,575.68 L237,575.94 L237.5,575.59 L238,575.84 L238.5,575.85 L239,575.82 L239.5,575.59 L240,575.9 L240.5,575.84 L241,575.78 L241.5,575.85 L242,575.6 L242.5,575.93 L243,575.95 L243.5,575.7 L244,575.87 L244.5,575.94 L245,575.62 L245.5,575.72 L246,575.94 L246.5,575.78 L247,575.91 L247.5,575.95 L248,575.95 L248.5,575.93 L249,575.85 L249.5,575.9 L250,575.85 L250.5,575.94 L251,575.8 L251.5,575.68 L252,575.67 L252.5,575.75 L253,575.64 L253.5,575.92 L254,575.94 L254.5,575.65 L255,575.93 L255.5,575.93 L256,575.69 L256.5,575.72 L257,575.9 L257.5,575.95 L258,575.78 L258.5,575.59 L259,575.86 L259.5,575.86 L260,575.94 L260.5,575.95 L261,575.84 L261.5,575.84 L262,575.94 L262.5,575.68 L263,575.62 L263.5,575.95 L264,575.88 L264.5,575.92 L265,575.86 L265.5,575.82 L266,575.77 L266.5,575.94 L267,575.75 L267.5,575.94 L268,575.86 L268.5,575.65 L269,575.77 L269.5,575.81 L270,575.82 L270.5,575.57 L271,575.93 L271.5,575.75 L272,575.7 L272.5,575.64 L273,575.77 L273.5,575.73 L274,575.76 L274.5,575.91 L275,575.95 L275.5,575.8 L276,575.93 L276.5,575.79 L277,575.79 L277.5,575.85 L278,575.56 L278.5,575.77 L279,575.58 L279.5,575.82 L280,575.93 L280.5,575.95 L281,575.9 L281.5,575.93 L282,575.85 L282.5,575.59 L283,575.56 L283.5,575.7 L284,575.82 L284.5,575.95 L285,575.94 L285.5,575.94 L286,575.82 L286.5,575.61 L287,575.85 L287.5,575.91 L288,575.8 L288.5,575.93 L289,575.92 L289.5,575.93 L290,575.94 L290.5,575.9 L291,575.74 L291.5,575.57 L292,575.95 L292.5,575.89 L293,575.58 L293.5,575.86 L294,575.76 L294.5,575.58 L295,575.82 L295.5,575.81 L296,575.94 L296.5,575.85 L297,575.89 L297.5,575.88 L298,575.83 L298.5,575.73 L299,575.56 L299.5,575.75 L300,575.94 L300.5,575.26 L301,575.83 L301.5,575.44 L302,575.58 L302.5,575.32 L303,575.9 L303.5,574.99 L304,575.95 L304.5,575.88 L305,575.54 L305.5,575.65 L306,575.94 L306.5,575.64 L307,575.82 L307.5,575.91 L308,575.34 L308.5,575.95 L309,575.22 L309.5,575.29 L310,575.77 L310.5,575.21 L311,575.49 L311.5,575.85 L312,575.34 L312.5,575.77 L313,575.94 L313.5,575.95 L314,575.62 L314.5,575.44 L315,575.28 L315.5,575.91 L316,575.95 L316.5,575.37 L317,575.88 L317.5,575.83 L318,575.82 L318.5,575.4 L319,574.98 L319.5,574.99 L320,575.23 L320.5,575.86 L321,574.94 L321.5,575.9 L322,575.82 L322.5,575.8 L323,575.92 L323.5,575.24 L324,575.16 L324.5,575.92 L325,575.06 L325.5,575.95 L326,575.64 L326.5,574.86 L327,575.23 L327.5,575.64 L328,575.94 L328.5,575.35 L329,575.94 L329.5,575.93 L330,575.5 L330.5,575.91 L331,575.67 L331.5,575.8 L332,574.86 L332.5,575.7 L333,575.38 L333.5,574.99 L334,575.18 L334.5,575.12 L335,575.17 L335.5,574.89 L336,575.67 L336.5,575.23 L337,575.78 L337.5,575.34 L338,575.81 L338.5,575.91 L339,575.87 L339.5,575.95 L340,575.94 L340.5,575.28 L341,575.95 L341.5,575.59 L342,575.95 L342.5,575.92 L343,575.9 L343.5,575.58 L344,575.92 L344.5,575.93 L345,575.86 L345.5,575.2 L346,575.89 L346.5,574.99 L347,575.64 L347.5,575.71 L348,575.95 L348.5,575.23 L349,575.66 L349.5,575.88 L350,575.48 L350.5,575.95 L351,575.82 L351.5,575.39 L352,575.93 L352.5,575.85 L353,575.09 L353.5,575.52 L354,575.89 L354.5,575.93 L355,575.95 L355.5,575.14 L356,575.95 L356.5,575.39 L357,575.72 L357.5,574.89 L358,575.12 L358.5,575.25 L359,574.98 L359.5,575.18 L360,575.64 L360.5,575.93 L361,575.86 L361.5,575.95 L362,575.73 L362.5,575.83 L363,575.94 L363.5,575.74 L364,575.17 L364.5,575.95 L365,575.4 L365.5,575.62 L366,575.95 L366.5,575.23 L367,575.55 L367.5,575.81 L368,575.87 L368.5,575.8 L369,575.89 L369.5,575.36 L370,574.92 L370.5,575.38 L371,575.18 L371.5,575.93 L372,575.45 L372.5,575.92 L373,575.16 L373.5,575.94 L374,575.93 L374.5,575.79 L375,574.97 L375.5,575.68 L376,575.3 L376.5,575.81 L377,575.78 L377.5,575.79 L378,574.83 L378.5,575.48 L379,575.95 L379.5,575.84 L380,575.94 L380.5,575.68 L381,575.18 L381.5,575.93 L382,575.02 L382.5,575.83 L383,575.93 L383.5,574.81 L384,575.39 L384.5,575.92 L385,575.53 L385.5,575.95 L386,575.6 L386.5,575.85 L387,575.83 L387.5,575.94 L388,575.94 L388.5,575.64 L389,575.62 L389.5,575 L390,575.2 L390.5,575.94 L391,575.87 L391.5,575.9 L392,575.17 L392.5,575.64 L393,575.95 L393.5,574.81 L394,575.48 L394.5,575.46 L395,575.81 L395.5,575.23 L396,575.92 L396.5,575.93 L397,575.61 L397.5,575.67 L398,575.61 L398.5,575.51 L399,575.46 L399.5,574.88 L400,575.73 L400.5,575.54 L401,575.31 L401.5,575.71 L402,575.16 L402.5,575.79 L403,575.62 L403.5,575.67 L404,575.77 L404.5,575.85 L405,575.37 L405.5,575.36 L406,575.33 L406.5,575.58 L407,575.94 L407.5,575.69 L408,575.95 L408.5,575.67 L409,575.86 L409.5,575.9 L410,575 L410.5,575.47 L411,575.78 L411.5,575.91 L412,575.61 L412.5,575.94 L413,575.94 L413.5,574.46 L414,575.87 L414.5,575.95 L415,575.2 L415.5,575.83 L416,575.95 L416.5,575.03 L417,575.7 L417.5,574.84 L418,575.91 L418.5,574.97 L419,575.92 L419.5,575.83 L420,575.93 L420.5,574.79 L421,575.52 L421.5,575.07 L422,575.94 L422.5,575.86 L423,575.09 L423.5,575.94 L424,574.93 L424.5,575.95 L425,575.86 L425.5,575.92 L426,575.9 L426.5,575.25 L427,575.48 L427.5,575.58 L428,575.87 L428.5,575.47 L429,575.51 L429.5,574.82 L430,575.66 L430.5,575.95 L431,575.88 L431.5,575.23 L432,575.88 L432.5,575.9 L433,575.64 L433.5,575.03 L434,575.95 L434.5,575.33 L435,574.95 L435.5,575.92 L436,575.5 L436.5,575.48 L437,575.68 L437.5,575.14 L438,575.67 L438.5,575.93 L439,575.93 L439.5,575.9 L440,574.77 L440.5,574.71 L441,575.52 L441.5,575.32 L442,575.95 L442.5,574.96 L443,574.41 L443.5,575.92 L444,575.51 L444.5,575.61 L445,574.68 L445.5,574.27 L446,574.93 L446.5,569.4 L447,574.16 L447.5,575.35 L448,575.45 L448.5,575.3 L449,574.6 L449.5,575.85 L450,575.03 L450.5,574.72 L451,575.66 L451.5,575.88 L452,575.95 L452.5,574.81 L453,575.92 L453.5,574.86 L454,575.86 L454.5,575.92 L455,575.8 L455.5,575.94 L456,573.89 L456.5,574.9 L457,575.85 L457.5,575.86 L458,574.17 L458.5,575.76 L459,575.25 L459.5,575.67 L460,575.95 L460.5,575.02 L461,575.3 L461.5,575.57 L462,574.52 L462.5,574.74 L463,575.75 L463.5,575.39 L464,575.89 L464.5,575.56 L465,575.6 L465.5,575.06 L466,575.89 L466.5,575.94 L467,575.73 L467.5,575.95 L468,575.84 L468.5,574.2 L469,575.83 L469.5,575.92 L470,575.73 L470.5,574.93 L471,575.95 L471.5,575.7 L472,574.37 L472.5,574.78 L473,575.95 L473.5,575.86 L474,575.92 L474.5,575.95 L475,575.63 L475.5,575.92 L476,575.84 L476.5,575.1 L477,575.89 L477.5,574.96 L478,575.69 L478.5,575.87 L479,575.75 L479.5,575.95 L480,575.2 L480.5,574.65 L481,575.8 L481.5,574.22 L482,575.03 L482.5,574.07 L483,575.86 L483.5,575.94 L484,575.68 L484.5,575.7 L485,575.5 L485.5,575.91 L486,575.55 L486.5,575.1 L487,575.94 L487.5,575.64 L488,575.32 L488.5,575.38 L489,575.95 L489.5,575.72 L490,575.67 L490.5,575.51 L491,575.56 L491.5,575.85 L492,575.75 L492.5,575.36 L493,575.09 L493.5,575.56 L494,574.07 L494.5,574.53 L495,574.31 L495.5,572.34 L496,566.3 L496.5,574.09 L497,574.23 L497.5,575.58 L498,575.48 L498.5,575.73 L499,575.92 L499.5,575.87 L500,574.12 L500.5,575.68 L501,575.51 L501.5,575.4 L502,575.37 L502.5,574.01 L503,575.75 L503.5,575.79 L504,575.01 L504.5,574.03 L505,575.91 L505.5,575.52 L506,575.72 L506.5,574.85 L507,575.86 L507.5,575.77 L508,575.47 L508.5,575.95 L509,575.94 L509.5,575.93 L510,574.77 L510.5,575.91 L511,574.42 L511.5,575.85 L512,574.69 L512.5,574.95 L513,574.95 L513.5,575.76 L514,574.52 L514.5,575.35 L515,574.98 L515.5,574.57 L516,575.93 L516.5,575.09 L517,574.03 L517.5,574.13 L518,575.93 L518.5,575.64 L519,575.68 L519.5,573.92 L520,574.96 L520.5,575.95 L521,574.91 L521.5,575.93 L522,575.95 L522.5,575.53 L523,575.79 L523.5,574.54 L524,575.69 L524.5,574.79 L525,575.69 L525.5,575.4 L526,575.92 L526.5,575.93 L527,575.85 L527.5,575.93 L528,575.95 L528.5,575.92 L529,575.83 L529.5,575.53 L530,575.84 L530.5,575.95 L531,575.79 L531.5,575.9 L532,573.88 L532.5,574.43 L533,575.65 L533.5,575.68 L534,575.39 L534.5,575.22 L535,574.14 L535.5,573.9 L536,574.56 L536.5,575.9 L537,575.91 L537.5,575.94 L538,574.83 L538.5,574.8 L539,572.36 L539.5,574.64 L540,574.89 L540.5,574.67 L541,574.79 L541.5,575.94 L542,575.67 L542.5,575.85 L543,575.95 L543.5,575.87 L544,575.1 L544.5,573.71 L545,572.78 L545.5,567.2 L546,573.07 L546.5,574.38 L547,575.43 L547.5,575.4 L548,575.9 L548.5,575.92 L549,574.02 L549.5,575.67 L550,575.42 L550.5,575.89 L551,575.78 L551.5,575.93 L552,575.62 L552.5,575.88 L553,574.98 L553.5,575.83 L554,574.1 L554.5,575.9 L555,573.92 L555.5,575.18 L556,575.16 L556.5,575.23 L557,574.47 L557.5,575.49 L558,575.93 L558.5,575.03 L559,575.1 L559.5,575.7 L560,575.27 L560.5,575.47 L561,575.2 L561.5,575.29 L562,574.17 L562.5,575.56 L563,574.88 L563.5,574.89 L564,575.67 L564.5,575.93 L565,575.51 L565.5,574.53 L566,574.14 L566.5,574.69 L567,573.9 L567.5,574.42 L568,575.85 L568.5,575.58 L569,574.44 L569.5,575.82 L570,575.94 L570.5,574.72 L571,575.86 L571.5,574.48 L572,575.39 L572.5,574.69 L573,575.49 L573.5,574.65 L574,570.7 L574.5,574.91 L575,575.31 L575.5,575.23 L576,575.94 L576.5,575.89 L577,574.39 L577.5,575.89 L578,574.54 L578.5,575.79 L579,575.83 L579.5,575.02 L580,575.93 L580.5,575.56 L581,575.93 L581.5,575.25 L582,575.89 L582.5,575.03 L583,575.73 L583.5,575.66 L584,575.19 L584.5,574.61 L585,575.39 L585.5,573.22 L586,574.51 L586.5,575.01 L587,573.64 L587.5,573.74 L588,575.4 L588.5,575.56 L589,574.93 L589.5,575.94 L590,575.76 L590.5,573.13 L591,574.55 L591.5,575.81 L592,575.69 L592.5,574.67 L593,573.92 L593.5,569.3 L594,574.66 L594.5,573.5 L595,575.61 L595.5,574.42 L596,575.65 L596.5,570.13 L597,575.36 L597.5,575.37 L598,574.65 L598.5,573.03 L599,572.88 L599.5,573.89 L600,574.52 L600.5,575.94 L601,575.53 L601.5,575.43 L602,575.23 L602.5,575.03 L603,572 L603.5,567.4 L604,573.45 L604.5,575.13 L605,574.38 L605.5,575.92 L606,575.95 L606.5,573.2 L607,575.95 L607.5,575.16 L608,575.93 L608.5,575.73 L609,575.92 L609.5,575.92 L610,575.23 L610.5,574.16 L611,575.5 L611.5,575.84 L612,575.09 L612.5,573.76 L613,573.77 L613.5,572.76 L614,560.4 L614.5,560.4 L615,570.9 L615.5,565 L616,570.11 L616.5,555.1 L617,568.35 L617.5,570.45 L618,572.88 L618.5,565 L619,572.75 L619.5,573.36 L620,575.3 L620.5,573.56 L621,575.05 L621.5,573.45 L622,575.73 L622.5,575.79 L623,575.46 L623.5,575.62 L624,575.41 L624.5,573.85 L625,575.18 L625.5,575.53 L626,575.93 L626.5,575.71 L627,574.72 L627.5,562.1 L628,570.21 L628.5,573.09 L629,574.94 L629.5,575.73 L630,574.97 L630.5,575.28 L631,574.27 L631.5,575.93 L632,575.77 L632.5,575.47 L633,575.53 L633.5,574.61 L634,572.94 L634.5,575.68 L635,573.94 L635.5,574.77 L636,574.23 L636.5,574.84 L637,573.31 L637.5,575.95 L638,574.28 L638.5,575.95 L639,575.49 L639.5,572.94 L640,575.94 L640.5,575.44 L641,575.58 L641.5,575.45 L642,575.7 L642.5,575.94 L643,573.86 L643.5,575.12 L644,575.92 L644.5,573.14 L645,573.34 L645.5,575.5 L646,573.83 L646.5,573.63 L647,575.54 L647.5,574.35 L648,572.38 L648.5,569.16 L649,564.21 L649.5,544 L650,565.22 L650.5,563.5 L651,562 L651.5,571.18 L652,572.88 L652.5,573.86 L653,574.52 L653.5,575.08 L654,575.47 L654.5,574.39 L655,575.79 L655.5,573.91 L656,574.45 L656.5,574.87 L657,572.99 L657.5,575.4 L658,575.83 L658.5,575.93 L659,573.78 L659.5,574.53 L660,575.11 L660.5,575.9 L661,574.22 L661.5,575.93 L662,575.84 L662.5,575.16 L663,575.28 L663.5,573.61 L664,567.4 L664.5,567.4 L665,574.44 L665.5,573.72 L666,575.78 L666.5,574.62 L667,573.24 L667.5,567.4 L668,567 L668.5,573.26 L669,570.47 L669.5,544 L670,571.17 L670.5,575.13 L671,575.16 L671.5,573.36 L671.5,576.4 Z" fill="#ee1c24" stroke="#4a4a4a" stroke-width="0.35"/>
<line x1="495.8" y1="566.1" x2="495.8" y2="567.3" stroke="#333" stroke-width="0.75"/>
<line x1="545.4" y1="567" x2="545.4" y2="568.2" stroke="#333" stroke-width="0.75"/>
<line x1="616.4" y1="554.9" x2="616.4" y2="556.6" stroke="#333" stroke-width="0.75"/>
<line x1="627.4" y1="561.9" x2="627.4" y2="564.6" stroke="#333" stroke-width="0.75"/>
<line x1="649.6" y1="543.8" x2="649.6" y2="548" stroke="#333" stroke-width="0.75"/>
<line x1="669.5" y1="543.8" x2="669.5" y2="548" stroke="#333" stroke-width="0.75"/>
<line x1="150.4" y1="576.6" x2="672" y2="576.6" stroke="#444" stroke-width="0.7"/>
<line x1="150.5" y1="580.5" x2="150.5" y2="636.7" stroke="#777" stroke-width="1"/>
<line x1="150.4" y1="580.5" x2="671.5" y2="580.5" stroke="#999" stroke-width="1"/>
<line x1="671.5" y1="580.5" x2="671.5" y2="636.7" stroke="#999" stroke-width="1"/>
<rect x="150.4" y="635.7" width="521.1" height="2.8" fill="#d6d6d6"/>
<path d="M151,635.2 L151,634.67 L151.5,634.59 L152,634.75 L152.5,634.73 L153,634.58 L153.5,634.64 L154,634.74 L154.5,634.11 L155,633.56 L155.5,628.5 L156,633.34 L156.5,633.76 L157,634.44 L157.5,634.66 L158,634.37 L158.5,634.75 L159,634.75 L159.5,634.61 L160,634.57 L160.5,634.74 L161,634.7 L161.5,634.63 L162,634.7 L162.5,634.56 L163,634.38 L163.5,634.71 L164,634.58 L164.5,634.75 L165,634.71 L165.5,634.5 L166,634.75 L166.5,634.69 L167,634.74 L167.5,634.7 L168,634.75 L168.5,634.74 L169,634.75 L169.5,634.71 L170,634.75 L170.5,634.74 L171,634.67 L171.5,634.67 L172,634.74 L172.5,634.71 L173,634.54 L173.5,634.75 L174,634.53 L174.5,634.73 L175,634.75 L175.5,634.37 L176,634.66 L176.5,634.72 L177,634.49 L177.5,634.73 L178,634.67 L178.5,634.73 L179,634.44 L179.5,634.72 L180,634.73 L180.5,634.66 L181,634.57 L181.5,634.73 L182,634.58 L182.5,634.75 L183,634.69 L183.5,634.69 L184,634.64 L184.5,634.43 L185,634.54 L185.5,634.63 L186,634.52 L186.5,634.71 L187,634.55 L187.5,634.75 L188,634.44 L188.5,634.44 L189,634.65 L189.5,634.7 L190,634.71 L190.5,634.41 L191,634.65 L191.5,634.75 L192,634.57 L192.5,634.73 L193,634.72 L193.5,634.74 L194,634.72 L194.5,634.54 L195,634.41 L195.5,634.75 L196,634.68 L196.5,634.59 L197,634.73 L197.5,634.41 L198,634.71 L198.5,634.74 L199,634.74 L199.5,634.66 L200,634.74 L200.5,634.62 L201,634.73 L201.5,634.47 L202,634.73 L202.5,634.54 L203,634.59 L203.5,634.38 L204,634.58 L204.5,634.55 L205,634.67 L205.5,634.72 L206,634.74 L206.5,634.73 L207,634.51 L207.5,634.41 L208,634.7 L208.5,634.44 L209,634.75 L209.5,634.48 L210,634.52 L210.5,634.61 L211,634.7 L211.5,634.7 L212,634.51 L212.5,634.74 L213,634.38 L213.5,634.75 L214,634.46 L214.5,634.71 L215,634.72 L215.5,634.47 L216,634.74 L216.5,634.75 L217,634.75 L217.5,634.74 L218,634.72 L218.5,634.74 L219,634.47 L219.5,634.75 L220,634.65 L220.5,634.65 L221,634.51 L221.5,634.61 L222,634.61 L222.5,634.69 L223,634.56 L223.5,634.42 L224,634.47 L224.5,634.4 L225,634.69 L225.5,634.62 L226,634.48 L226.5,634.75 L227,634.75 L227.5,634.75 L228,634.75 L228.5,634.62 L229,634.39 L229.5,634.4 L230,634.73 L230.5,634.67 L231,634.54 L231.5,634.65 L232,634.73 L232.5,634.62 L233,634.37 L233.5,634.41 L234,634.72 L234.5,634.62 L235,634.75 L235.5,634.67 L236,634.49 L236.5,634.71 L237,634.47 L237.5,634.67 L238,634.61 L238.5,634.71 L239,634.7 L239.5,634.75 L240,634.4 L240.5,634.73 L241,634.75 L241.5,634.61 L242,634.65 L242.5,634.63 L243,634.72 L243.5,634.36 L244,634.66 L244.5,634.74 L245,634.74 L245.5,634.71 L246,634.41 L246.5,634.72 L247,634.7 L247.5,634.6 L248,634.59 L248.5,634.73 L249,634.37 L249.5,634.74 L250,634.73 L250.5,634.73 L251,634.6 L251.5,634.63 L252,634.39 L252.5,634.41 L253,634.68 L253.5,634.56 L254,634.73 L254.5,634.56 L255,634.59 L255.5,634.56 L256,634.72 L256.5,634.45 L257,634.7 L257.5,634.44 L258,634.49 L258.5,634.72 L259,634.69 L259.5,634.75 L260,634.72 L260.5,634.75 L261,634.7 L261.5,634.62 L262,634.74 L262.5,634.47 L263,634.42 L263.5,634.71 L264,634.43 L264.5,634.64 L265,634.73 L265.5,634.44 L266,634.62 L266.5,634.49 L267,634.6 L267.5,634.75 L268,634.71 L268.5,634.75 L269,634.66 L269.5,634.48 L270,634.65 L270.5,634.48 L271,634.44 L271.5,634.51 L272,634.61 L272.5,634.74 L273,634.51 L273.5,634.66 L274,634.58 L274.5,634.6 L275,634.73 L275.5,634.75 L276,634.38 L276.5,634.62 L277,634.39 L277.5,634.74 L278,634.47 L278.5,634.74 L279,634.59 L279.5,634.64 L280,634.54 L280.5,634.54 L281,634.54 L281.5,634.74 L282,634.61 L282.5,634.75 L283,634.69 L283.5,634.64 L284,634.65 L284.5,634.44 L285,634.46 L285.5,634.41 L286,634.72 L286.5,634.59 L287,634.74 L287.5,634.39 L288,634.74 L288.5,634.5 L289,634.36 L289.5,634.69 L290,634.72 L290.5,634.39 L291,634.59 L291.5,634.74 L292,634.75 L292.5,634.67 L293,634.42 L293.5,634.59 L294,634.53 L294.5,634.37 L295,634.58 L295.5,634.74 L296,634.68 L296.5,634.74 L297,634.74 L297.5,634.72 L298,634.58 L298.5,634.69 L299,634.74 L299.5,634.43 L300,634.35 L300.5,634.48 L301,634.66 L301.5,634.73 L302,634.23 L302.5,633.95 L303,634.74 L303.5,634.4 L304,634.46 L304.5,633.76 L305,633.91 L305.5,634.69 L306,634.7 L306.5,634.7 L307,634.73 L307.5,633.83 L308,634.32 L308.5,634.75 L309,634.74 L309.5,634.58 L310,634.73 L310.5,633.91 L311,634.22 L311.5,634.68 L312,634.58 L312.5,634.04 L313,634.75 L313.5,634.68 L314,633.89 L314.5,634.66 L315,634.73 L315.5,634.69 L316,634.69 L316.5,634.74 L317,634.73 L317.5,634.21 L318,634.58 L318.5,634.61 L319,633.9 L319.5,634.74 L320,634.28 L320.5,634.7 L321,634.41 L321.5,634.75 L322,633.86 L322.5,634 L323,634.62 L323.5,634.34 L324,634.74 L324.5,634.73 L325,634.29 L325.5,634.07 L326,634.68 L326.5,634.75 L327,634.67 L327.5,634.67 L328,634.73 L328.5,634.75 L329,634.38 L329.5,634.75 L330,634.64 L330.5,634.65 L331,634.59 L331.5,634.75 L332,633.87 L332.5,633.75 L333,634.22 L333.5,634.74 L334,634.3 L334.5,634.74 L335,634.49 L335.5,634.72 L336,634.38 L336.5,634.75 L337,634.65 L337.5,634.74 L338,634.53 L338.5,634.72 L339,634.57 L339.5,634.75 L340,634.75 L340.5,634.17 L341,633.82 L341.5,634.59 L342,634.75 L342.5,634.75 L343,634.31 L343.5,634.75 L344,633.79 L344.5,634.44 L345,634.54 L345.5,634.44 L346,634.61 L346.5,634.43 L347,634.16 L347.5,634.25 L348,634.54 L348.5,634.23 L349,634.73 L349.5,634.39 L350,634.46 L350.5,634.59 L351,634.42 L351.5,634.58 L352,634.3 L352.5,633.74 L353,634.3 L353.5,633.75 L354,633.87 L354.5,633.82 L355,634.7 L355.5,634.46 L356,634.38 L356.5,634.34 L357,634.75 L357.5,634.27 L358,634.49 L358.5,634.74 L359,633.93 L359.5,633.92 L360,634.62 L360.5,634.75 L361,634.12 L361.5,634.73 L362,633.82 L362.5,634.32 L363,634.69 L363.5,634.3 L364,634.7 L364.5,634.72 L365,634.57 L365.5,634.01 L366,634.38 L366.5,634.74 L367,634.59 L367.5,634.63 L368,634.62 L368.5,634.53 L369,634.75 L369.5,634.69 L370,634.74 L370.5,634.27 L371,634.52 L371.5,634.09 L372,633.78 L372.5,634.51 L373,634.67 L373.5,634.75 L374,633.94 L374.5,634.41 L375,634.29 L375.5,634.19 L376,634.42 L376.5,634.03 L377,634.73 L377.5,634.63 L378,634.11 L378.5,634.74 L379,634.67 L379.5,634.61 L380,634.12 L380.5,634.18 L381,634.74 L381.5,634.74 L382,634.61 L382.5,634.25 L383,634.74 L383.5,634.71 L384,634.2 L384.5,634.43 L385,634.02 L385.5,634.44 L386,634.69 L386.5,634.31 L387,634.66 L387.5,633.93 L388,634.73 L388.5,634.02 L389,633.94 L389.5,634.68 L390,634.7 L390.5,634.73 L391,634.07 L391.5,634.21 L392,634.38 L392.5,634.44 L393,634.52 L393.5,634.74 L394,634.14 L394.5,634.21 L395,634.1 L395.5,634.67 L396,634.08 L396.5,634.25 L397,634.44 L397.5,634.56 L398,633.94 L398.5,634.39 L399,634.56 L399.5,634.35 L400,634.65 L400.5,634.74 L401,634.14 L401.5,634.73 L402,634.39 L402.5,634.74 L403,634.71 L403.5,634.25 L404,634.61 L404.5,634.71 L405,633.96 L405.5,633.79 L406,634.74 L406.5,634.63 L407,634.58 L407.5,634.71 L408,634.42 L408.5,634.46 L409,634 L409.5,634.48 L410,634.74 L410.5,634.59 L411,634.71 L411.5,634.71 L412,634.68 L412.5,633.98 L413,634.61 L413.5,634.44 L414,633.81 L414.5,634.18 L415,634.61 L415.5,634.75 L416,634.72 L416.5,634.74 L417,634.3 L417.5,634.33 L418,633.86 L418.5,634.1 L419,634.05 L419.5,634.17 L420,633.05 L420.5,634.45 L421,634.65 L421.5,634.67 L422,634.75 L422.5,634.35 L423,634.75 L423.5,633.87 L424,634.23 L424.5,633.75 L425,634.09 L425.5,634.09 L426,633.87 L426.5,633.93 L427,634.64 L427.5,633.94 L428,634.42 L428.5,634.75 L429,634.75 L429.5,634.71 L430,634.73 L430.5,634.16 L431,634.74 L431.5,634.75 L432,634.25 L432.5,634.34 L433,634.74 L433.5,634.7 L434,634.56 L434.5,634.11 L435,634.59 L435.5,634.73 L436,634.62 L436.5,634.04 L437,633.72 L437.5,634.49 L438,634.15 L438.5,634.75 L439,634.32 L439.5,634.06 L440,633.26 L440.5,633.96 L441,634.57 L441.5,634.74 L442,634.64 L442.5,634.65 L443,634.34 L443.5,634.74 L444,633.44 L444.5,629 L445,632.83 L445.5,634.59 L446,634.42 L446.5,629 L447,632.83 L447.5,633.38 L448,633.2 L448.5,634.71 L449,634.71 L449.5,634.73 L450,634.52 L450.5,634.6 L451,634.68 L451.5,634.65 L452,634.48 L452.5,634.75 L453,634.74 L453.5,634.21 L454,634.3 L454.5,633.9 L455,634.7 L455.5,634.68 L456,634.75 L456.5,633.6 L457,633.34 L457.5,634.33 L458,634.66 L458.5,634.34 L459,634.65 L459.5,632.9 L460,634.74 L460.5,633.1 L461,634.27 L461.5,634.59 L462,634.75 L462.5,634.1 L463,633.34 L463.5,634.64 L464,634.47 L464.5,632 L465,634.15 L465.5,633.87 L466,634.01 L466.5,634.74 L467,633.84 L467.5,634.2 L468,633.43 L468.5,633.47 L469,634.57 L469.5,634.56 L470,633.41 L470.5,634.06 L471,634.71 L471.5,634.6 L472,634.17 L472.5,633.75 L473,634.3 L473.5,634.71 L474,634.5 L474.5,634.72 L475,634.23 L475.5,634.03 L476,634.61 L476.5,633.74 L477,634.65 L477.5,634 L478,633.49 L478.5,632.82 L479,634.3 L479.5,633.6 L480,634.6 L480.5,634.74 L481,634.3 L481.5,634.75 L482,634.67 L482.5,632.95 L483,634.34 L483.5,633.22 L484,634 L484.5,633.06 L485,634.65 L485.5,633.09 L486,634.51 L486.5,633.55 L487,633.53 L487.5,634.73 L488,634.39 L488.5,634.7 L489,634.7 L489.5,632.81 L490,634.75 L490.5,634.26 L491,633.63 L491.5,634.65 L492,632.83 L492.5,633.91 L493,634.42 L493.5,633.91 L494,631.85 L494.5,631.26 L495,622.4 L495.5,631.4 L496,633.69 L496.5,633.8 L497,634.74 L497.5,634.52 L498,633.17 L498.5,634.39 L499,634.73 L499.5,634.09 L500,633.72 L500.5,634.64 L501,634.28 L501.5,634.39 L502,634.75 L502.5,633.18 L503,634.68 L503.5,633.91 L504,634.52 L504.5,634.65 L505,634.75 L505.5,634.75 L506,633.09 L506.5,634.35 L507,634.21 L507.5,634.74 L508,634.65 L508.5,634.2 L509,634.63 L509.5,634.73 L510,632.83 L510.5,634.57 L511,633.16 L511.5,634.28 L512,634.75 L512.5,633.49 L513,633.86 L513.5,634.72 L514,634.75 L514.5,632.83 L515,634.55 L515.5,634.56 L516,633.92 L516.5,632.89 L517,632.84 L517.5,634.7 L518,633.82 L518.5,633.85 L519,634.19 L519.5,634.63 L520,634.72 L520.5,634.75 L521,634.74 L521.5,634.27 L522,633.51 L522.5,634.66 L523,634.45 L523.5,633.8 L524,634.63 L524.5,634.57 L525,633.33 L525.5,634.75 L526,633.66 L526.5,634.7 L527,634.5 L527.5,634.69 L528,634.46 L528.5,634.65 L529,634.45 L529.5,634 L530,634.75 L530.5,634.46 L531,634.74 L531.5,634.74 L532,634.75 L532.5,634.57 L533,634.74 L533.5,633.48 L534,634.75 L534.5,634.57 L535,633.92 L535.5,634.03 L536,634.68 L536.5,634.74 L537,633.33 L537.5,634.68 L538,634.67 L538.5,633.25 L539,634.55 L539.5,634.42 L540,632.97 L540.5,633.4 L541,633.75 L541.5,633.19 L542,633.39 L542.5,634.15 L543,633.73 L543.5,634.13 L544,632.09 L544.5,623.7 L545,623.7 L545.5,632.77 L546,633.48 L546.5,634.2 L547,634.75 L547.5,633.15 L548,634.64 L548.5,634.75 L549,634.54 L549.5,634.75 L550,633.69 L550.5,634.43 L551,633.83 L551.5,634.64 L552,633.54 L552.5,634.01 L553,634.71 L553.5,634.74 L554,634.21 L554.5,633.32 L555,634.5 L555.5,634.14 L556,634.1 L556.5,633.56 L557,634.7 L557.5,634.74 L558,634.2 L558.5,634.5 L559,633.68 L559.5,633.26 L560,634.65 L560.5,634.49 L561,634.32 L561.5,634.04 L562,630 L562.5,630 L563,629.6 L563.5,629.6 L564,634.31 L564.5,634.69 L565,634.66 L565.5,633.28 L566,634.23 L566.5,634.34 L567,633.31 L567.5,634.47 L568,634.66 L568.5,634.67 L569,633.37 L569.5,634.74 L570,633.56 L570.5,633 L571,634.72 L571.5,633.71 L572,632.88 L572.5,627.4 L573,633.39 L573.5,634.17 L574,633.61 L574.5,634.75 L575,634.38 L575.5,633.27 L576,634.43 L576.5,632.8 L577,634.31 L577.5,634.73 L578,634.69 L578.5,633.61 L579,633.14 L579.5,633.1 L580,634.13 L580.5,634.74 L581,633.63 L581.5,634.62 L582,634.58 L582.5,634.67 L583,633.52 L583.5,633.92 L584,633.95 L584.5,633.62 L585,634.73 L585.5,632.67 L586,632.91 L586.5,633.68 L587,632.31 L587.5,634.71 L588,634.3 L588.5,634.27 L589,633.77 L589.5,632.21 L590,634.58 L590.5,634.73 L591,634.7 L591.5,634.28 L592,632.34 L592.5,633.7 L593,631.2 L593.5,625.6 L594,631.76 L594.5,633.95 L595,632.8 L595.5,634.4 L596,634.66 L596.5,634.75 L597,634.62 L597.5,632.32 L598,633.01 L598.5,633.48 L599,632.9 L599.5,634.48 L600,634.65 L600.5,634.22 L601,634.59 L601.5,634.59 L602,634.05 L602.5,633.81 L603,622.3 L603.5,622.3 L604,632.98 L604.5,633.94 L605,633.59 L605.5,633.28 L606,633.89 L606.5,634.6 L607,632.87 L607.5,634.51 L608,633.18 L608.5,634.75 L609,634.67 L609.5,633.72 L610,633.75 L610.5,632.7 L611,634.31 L611.5,632.77 L612,630.22 L612.5,626.94 L613,622.49 L613.5,605.5 L614,622.45 L614.5,626.77 L615,622.67 L615.5,601.9 L616,601.9 L616.5,623.62 L617,626.57 L617.5,612 L618,628.31 L618.5,630.42 L619,631.9 L619.5,634.12 L620,633.4 L620.5,634.74 L621,634.08 L621.5,634.64 L622,633.16 L622.5,633.05 L623,632.74 L623.5,633.68 L624,634.53 L624.5,633.25 L625,633.46 L625.5,634.73 L626,634.6 L626.5,634.62 L627,633.11 L627.5,633.28 L628,634.45 L628.5,634.63 L629,632.84 L629.5,632.82 L630,634.74 L630.5,634.58 L631,633.64 L631.5,634.1 L632,634.65 L632.5,634.48 L633,634.08 L633.5,634.62 L634,634.75 L634.5,634.48 L635,633.45 L635.5,634.13 L636,630 L636.5,630 L637,632.77 L637.5,632.66 L638,633 L638.5,632.7 L639,634.69 L639.5,634.41 L640,634 L640.5,633.78 L641,633.89 L641.5,633.5 L642,634.39 L642.5,634.74 L643,634.48 L643.5,632.85 L644,633.45 L644.5,634.45 L645,633.95 L645.5,632.6 L646,634.57 L646.5,634.58 L647,634.74 L647.5,634.71 L648,634.75 L648.5,634.25 L649,634.64 L649.5,633.97 L650,632.43 L650.5,632.89 L651,633.58 L651.5,634.14 L652,633.69 L652.5,632.58 L653,633.46 L653.5,632.24 L654,634.62 L654.5,633.6 L655,634.58 L655.5,634.72 L656,634.6 L656.5,632.8 L657,634.43 L657.5,634.38 L658,634.68 L658.5,633.94 L659,634.11 L659.5,634.7 L660,634.02 L660.5,634.75 L661,633.86 L661.5,634.58 L662,633.29 L662.5,634.58 L663,633.69 L663.5,632.8 L664,631.96 L664.5,623.8 L665,631.64 L665.5,627 L666,631.81 L666.5,632.11 L667,625 L667.5,631.86 L668,633.99 L668.5,632.14 L669,601 L669.5,630.08 L670,633.53 L670.5,633.22 L671,633.33 L671,635.2 Z" fill="#ee1c24" stroke="#4a4a4a" stroke-width="0.35"/>
<line x1="494.8" y1="622.2" x2="494.8" y2="623.4" stroke="#333" stroke-width="0.75"/>
<line x1="544.8" y1="623.5" x2="544.8" y2="624.7" stroke="#333" stroke-width="0.75"/>
<line x1="603.2" y1="622.1" x2="603.2" y2="623.3" stroke="#333" stroke-width="0.75"/>
<line x1="613.5" y1="605.3" x2="613.5" y2="606.5" stroke="#333" stroke-width="0.75"/>
<line x1="615.7" y1="601.7" x2="615.7" y2="603.4" stroke="#333" stroke-width="0.75"/>
<line x1="150.4" y1="635.4" x2="671.5" y2="635.4" stroke="#444" stroke-width="0.7"/>
<line x1="150.5" y1="640.5" x2="150.5" y2="697.9" stroke="#777" stroke-width="1"/>
<line x1="150.4" y1="640.5" x2="671.5" y2="640.5" stroke="#999" stroke-width="1"/>
<line x1="671.5" y1="640.5" x2="671.5" y2="697.9" stroke="#999" stroke-width="1"/>
<rect x="150.4" y="696.9" width="521.1" height="2.8" fill="#d6d6d6"/>
<path d="M151,696.4 L151,695.93 L151.5,695.78 L152,695.94 L152.5,695.94 L153,695.75 L153.5,693.72 L154,690.53 L154.5,679 L155,691.63 L155.5,694.39 L156,695.7 L156.5,695.69 L157,695.6 L157.5,695.93 L158,695.87 L158.5,695.84 L159,695.91 L159.5,695.92 L160,695.7 L160.5,695.57 L161,695.84 L161.5,695.95 L162,695.88 L162.5,695.94 L163,695.93 L163.5,695.82 L164,695.95 L164.5,695.93 L165,695.94 L165.5,695.95 L166,695.6 L166.5,695.76 L167,695.95 L167.5,695.71 L168,695.8 L168.5,695.89 L169,695.65 L169.5,695.94 L170,695.9 L170.5,695.95 L171,695.82 L171.5,695.94 L172,695.83 L172.5,695.91 L173,695.91 L173.5,695.94 L174,695.95 L174.5,695.95 L175,695.84 L175.5,695.95 L176,695.91 L176.5,695.95 L177,695.95 L177.5,695.93 L178,695.95 L178.5,695.91 L179,695.95 L179.5,695.87 L180,695.86 L180.5,695.79 L181,695.95 L181.5,695.63 L182,695.93 L182.5,695.68 L183,695.83 L183.5,695.93 L184,695.94 L184.5,695.95 L185,695.95 L185.5,695.82 L186,695.73 L186.5,695.87 L187,695.92 L187.5,695.89 L188,695.67 L188.5,695.7 L189,695.92 L189.5,695.95 L190,695.91 L190.5,695.66 L191,695.95 L191.5,695.95 L192,695.92 L192.5,695.85 L193,695.95 L193.5,695.66 L194,695.87 L194.5,695.91 L195,695.94 L195.5,695.79 L196,695.86 L196.5,695.89 L197,695.81 L197.5,695.64 L198,695.95 L198.5,695.7 L199,695.92 L199.5,695.92 L200,695.95 L200.5,695.76 L201,695.76 L201.5,695.56 L202,695.89 L202.5,695.69 L203,695.92 L203.5,695.95 L204,695.56 L204.5,695.93 L205,695.88 L205.5,695.95 L206,695.92 L206.5,695.93 L207,695.67 L207.5,695.57 L208,695.87 L208.5,695.88 L209,695.85 L209.5,695.9 L210,695.94 L210.5,695.95 L211,695.94 L211.5,695.83 L212,695.65 L212.5,695.86 L213,695.94 L213.5,695.8 L214,695.59 L214.5,695.67 L215,695.68 L215.5,695.95 L216,695.62 L216.5,695.87 L217,695.93 L217.5,695.95 L218,695.74 L218.5,695.94 L219,695.77 L219.5,695.63 L220,695.95 L220.5,695.62 L221,695.69 L221.5,695.76 L222,695.83 L222.5,695.95 L223,695.82 L223.5,695.8 L224,695.86 L224.5,695.66 L225,695.7 L225.5,695.84 L226,695.62 L226.5,695.6 L227,695.79 L227.5,695.78 L228,695.95 L228.5,695.89 L229,695.72 L229.5,695.88 L230,695.84 L230.5,695.95 L231,695.94 L231.5,695.92 L232,695.94 L232.5,695.92 L233,695.58 L233.5,695.95 L234,695.95 L234.5,695.94 L235,695.95 L235.5,695.95 L236,695.84 L236.5,695.79 L237,693.6 L237.5,695.68 L238,695.95 L238.5,695.86 L239,695.72 L239.5,695.77 L240,695.89 L240.5,695.93 L241,695.84 L241.5,695.93 L242,695.95 L242.5,695.94 L243,695.59 L243.5,695.71 L244,695.92 L244.5,695.89 L245,695.77 L245.5,695.89 L246,695.93 L246.5,695.38 L247,695.95 L247.5,695.71 L248,695.88 L248.5,695.63 L249,695.93 L249.5,695.64 L250,695.91 L250.5,695.74 L251,695.75 L251.5,695.81 L252,695.71 L252.5,695.73 L253,695.84 L253.5,695.81 L254,695.95 L254.5,695.91 L255,695.92 L255.5,695.9 L256,695.83 L256.5,695.72 L257,695.85 L257.5,695.76 L258,695.65 L258.5,695.84 L259,695.93 L259.5,695.87 L260,695.95 L260.5,695.75 L261,695.68 L261.5,695.73 L262,695.84 L262.5,695.9 L263,695.75 L263.5,695.89 L264,695.77 L264.5,695.76 L265,695.9 L265.5,695.95 L266,695.95 L266.5,695.83 L267,695.61 L267.5,695.86 L268,695.71 L268.5,695.93 L269,695.89 L269.5,690.7 L270,694.89 L270.5,695.94 L271,695.87 L271.5,695.94 L272,695.76 L272.5,695.84 L273,695.77 L273.5,695.79 L274,695.82 L274.5,695.88 L275,695.76 L275.5,695.85 L276,695.84 L276.5,695.95 L277,695.76 L277.5,695.78 L278,695.94 L278.5,695.81 L279,695.94 L279.5,695.86 L280,695.77 L280.5,695.95 L281,695.86 L281.5,695.81 L282,695.92 L282.5,695.74 L283,695.89 L283.5,695.79 L284,695.93 L284.5,695.88 L285,695.93 L285.5,695.71 L286,695.95 L286.5,695.83 L287,695.93 L287.5,695.78 L288,695.94 L288.5,695.89 L289,695.65 L289.5,695.91 L290,695.79 L290.5,695.94 L291,695.66 L291.5,695.76 L292,695.76 L292.5,695.91 L293,695.91 L293.5,695.73 L294,695.66 L294.5,695.6 L295,695.84 L295.5,695.83 L296,695.93 L296.5,695.89 L297,695.94 L297.5,695.9 L298,695.92 L298.5,695.88 L299,695.89 L299.5,695.82 L300,695.95 L300.5,695.79 L301,695.6 L301.5,695.94 L302,695.71 L302.5,695.75 L303,695.63 L303.5,695.59 L304,695.94 L304.5,695.73 L305,695.93 L305.5,695.86 L306,695.95 L306.5,695.95 L307,695.91 L307.5,695.69 L308,695.81 L308.5,695.75 L309,695.6 L309.5,695.95 L310,695.93 L310.5,695.66 L311,695.92 L311.5,695.95 L312,695.8 L312.5,695.95 L313,695.95 L313.5,695.92 L314,695.95 L314.5,695.9 L315,695.86 L315.5,695.78 L316,695.88 L316.5,695.9 L317,695.89 L317.5,695.92 L318,695.87 L318.5,695.94 L319,695.91 L319.5,695.82 L320,695.91 L320.5,695.89 L321,695.61 L321.5,695.94 L322,695.62 L322.5,695.67 L323,695.76 L323.5,695.68 L324,695.87 L324.5,695.94 L325,695.67 L325.5,695.89 L326,695.94 L326.5,695.69 L327,695.27 L327.5,686.3 L328,695.33 L328.5,695.92 L329,695.94 L329.5,695.8 L330,695.9 L330.5,695.63 L331,695.94 L331.5,695.76 L332,695.8 L332.5,695.9 L333,695.91 L333.5,695.29 L334,695.8 L334.5,695.92 L335,695 L335.5,695.86 L336,695.79 L336.5,695.79 L337,695.81 L337.5,695.77 L338,695.13 L338.5,695.9 L339,695.74 L339.5,695.75 L340,695.43 L340.5,695.84 L341,695.25 L341.5,695.18 L342,695.8 L342.5,695.89 L343,695.08 L343.5,695.95 L344,689.2 L344.5,694.56 L345,695.88 L345.5,695.03 L346,695.55 L346.5,695.74 L347,695.11 L347.5,695.39 L348,695.18 L348.5,695.95 L349,695.67 L349.5,695.9 L350,695.92 L350.5,695.95 L351,694.82 L351.5,695.12 L352,695.72 L352.5,695.88 L353,695.64 L353.5,695.49 L354,695.82 L354.5,695.1 L355,695.34 L355.5,692.7 L356,695.94 L356.5,695.85 L357,695.95 L357.5,695.89 L358,695.58 L358.5,695.92 L359,695.86 L359.5,695.93 L360,695.13 L360.5,695.09 L361,695.01 L361.5,694.88 L362,690.7 L362.5,695.51 L363,695.94 L363.5,695.47 L364,695.9 L364.5,695.95 L365,695.86 L365.5,695.93 L366,695.85 L366.5,695.81 L367,695.93 L367.5,694.93 L368,695.93 L368.5,695.93 L369,694.92 L369.5,695.94 L370,695.63 L370.5,695.03 L371,695.84 L371.5,695.63 L372,695.72 L372.5,695.9 L373,694.93 L373.5,695.46 L374,695.93 L374.5,695.59 L375,695.49 L375.5,695.2 L376,695.79 L376.5,695.26 L377,695.7 L377.5,695.1 L378,695.91 L378.5,695.45 L379,695.78 L379.5,695.88 L380,695.95 L380.5,695.56 L381,695.71 L381.5,695.53 L382,695.77 L382.5,695.94 L383,695.36 L383.5,695.39 L384,695.93 L384.5,695.75 L385,695.18 L385.5,695.83 L386,695.16 L386.5,691.7 L387,695.08 L387.5,694.97 L388,695.67 L388.5,694.96 L389,695.28 L389.5,690.7 L390,695.41 L390.5,695.95 L391,695.91 L391.5,694.92 L392,695.87 L392.5,695.94 L393,695.93 L393.5,695.09 L394,695.15 L394.5,695.93 L395,695.49 L395.5,695.72 L396,695.72 L396.5,695.77 L397,695.94 L397.5,695.25 L398,690.7 L398.5,694.94 L399,695.3 L399.5,695.11 L400,695.95 L400.5,695.9 L401,695.19 L401.5,695.51 L402,695.47 L402.5,695.55 L403,694.97 L403.5,695.67 L404,695.68 L404.5,695 L405,695.48 L405.5,695.02 L406,695.95 L406.5,695.94 L407,695.9 L407.5,695.21 L408,690.2 L408.5,695.72 L409,694.92 L409.5,695.85 L410,695.63 L410.5,692.7 L411,695.76 L411.5,695.76 L412,695.89 L412.5,692.7 L413,695.57 L413.5,695.47 L414,695.89 L414.5,695.89 L415,695.58 L415.5,695.63 L416,694.98 L416.5,694.97 L417,695.84 L417.5,695.94 L418,695.72 L418.5,695.61 L419,695.92 L419.5,695.95 L420,695.89 L420.5,695.94 L421,695.46 L421.5,695.26 L422,695.95 L422.5,695.66 L423,695.69 L423.5,695.17 L424,694.51 L424.5,688.6 L425,694.36 L425.5,694.98 L426,695.69 L426.5,695.17 L427,691.7 L427.5,695.65 L428,695.74 L428.5,695.7 L429,695.44 L429.5,695.9 L430,695.35 L430.5,695.3 L431,695.65 L431.5,695.09 L432,695.94 L432.5,695.6 L433,695.54 L433.5,695.27 L434,695.83 L434.5,695.59 L435,694.92 L435.5,695.85 L436,695.63 L436.5,695.87 L437,695.43 L437.5,695.76 L438,695.58 L438.5,695.5 L439,695.9 L439.5,695.95 L440,695.95 L440.5,695.8 L441,694.6 L441.5,694.84 L442,695.87 L442.5,694.96 L443,687.6 L443.5,693.4 L444,695.37 L444.5,694.93 L445,695.69 L445.5,694.8 L446,693.16 L446.5,687.6 L447,694.99 L447.5,695.73 L448,694.48 L448.5,694.63 L449,695.14 L449.5,695.87 L450,695.11 L450.5,695.28 L451,695.38 L451.5,694.02 L452,695.5 L452.5,695.95 L453,695.93 L453.5,694.85 L454,695.95 L454.5,695.76 L455,695.16 L455.5,695.93 L456,695.72 L456.5,694.35 L457,695.78 L457.5,694.46 L458,693.92 L458.5,695.76 L459,691.7 L459.5,693.49 L460,694.83 L460.5,695.57 L461,695.72 L461.5,693.69 L462,695.7 L462.5,695.91 L463,695.6 L463.5,694.27 L464,695.86 L464.5,694.82 L465,695.38 L465.5,695.11 L466,694.18 L466.5,695.81 L467,693.73 L467.5,695.44 L468,695.94 L468.5,695.59 L469,694.97 L469.5,695.34 L470,694.64 L470.5,695.87 L471,695.48 L471.5,694.75 L472,694.51 L472.5,694.87 L473,695.24 L473.5,695.93 L474,695.54 L474.5,695.88 L475,695.93 L475.5,695.94 L476,694.57 L476.5,695.81 L477,693.92 L477.5,695.22 L478,695.42 L478.5,695.11 L479,695.03 L479.5,695.85 L480,695.86 L480.5,695.57 L481,687.7 L481.5,694.84 L482,694.9 L482.5,695.91 L483,694.88 L483.5,695.92 L484,695.84 L484.5,695.79 L485,695.83 L485.5,694.14 L486,695.92 L486.5,693.83 L487,695.25 L487.5,695.95 L488,695.87 L488.5,695.93 L489,694.39 L489.5,694.89 L490,695.43 L490.5,692.8 L491,694.9 L491.5,693.72 L492,694.74 L492.5,695.54 L493,694.16 L493.5,688.7 L494,694 L494.5,692.65 L495,679.9 L495.5,689.24 L496,691.85 L496.5,688.7 L497,694.55 L497.5,695.15 L498,695.82 L498.5,689.7 L499,693.7 L499.5,694.93 L500,695.94 L500.5,695.61 L501,686.7 L501.5,694.68 L502,695.93 L502.5,694.67 L503,695.51 L503.5,694.98 L504,694.89 L504.5,694.17 L505,695.52 L505.5,694.92 L506,690.8 L506.5,693.72 L507,694.27 L507.5,695.16 L508,695.62 L508.5,695.88 L509,695.19 L509.5,694.09 L510,695.3 L510.5,693.9 L511,693.65 L511.5,695.93 L512,695.41 L512.5,694.01 L513,693.51 L513.5,695.91 L514,694.19 L514.5,694.53 L515,695.63 L515.5,694.77 L516,694.47 L516.5,695.86 L517,695.93 L517.5,694.81 L518,695.16 L518.5,694.82 L519,693.55 L519.5,695.76 L520,695.7 L520.5,694.19 L521,693.67 L521.5,695.68 L522,694.41 L522.5,695.91 L523,694.59 L523.5,695.56 L524,690.8 L524.5,690.8 L525,695.83 L525.5,695.91 L526,695.77 L526.5,695.25 L527,695.69 L527.5,694.36 L528,695.95 L528.5,695.86 L529,695.56 L529.5,695.57 L530,695.88 L530.5,695.93 L531,695.31 L531.5,694.2 L532,695.68 L532.5,694.46 L533,694.79 L533.5,695.09 L534,695.9 L534.5,694.18 L535,695.66 L535.5,695.69 L536,695.92 L536.5,695.51 L537,695.82 L537.5,695.45 L538,694.39 L538.5,695.86 L539,694.73 L539.5,695.91 L540,695.27 L540.5,694.59 L541,694.16 L541.5,695.42 L542,693.82 L542.5,686.7 L543,693.41 L543.5,694.88 L544,693.14 L544.5,686.7 L545,693.79 L545.5,695.07 L546,694.77 L546.5,695.32 L547,686.7 L547.5,686.7 L548,693.97 L548.5,695.36 L549,695.52 L549.5,695.76 L550,695.61 L550.5,695.91 L551,694.8 L551.5,695.2 L552,695.94 L552.5,694.16 L553,694.34 L553.5,695.54 L554,693.53 L554.5,693.52 L555,694.88 L555.5,695.9 L556,695.75 L556.5,693.99 L557,695.93 L557.5,695.15 L558,694.34 L558.5,695.44 L559,695.95 L559.5,695.02 L560,692.5 L560.5,695.12 L561,694.8 L561.5,695.49 L562,695.95 L562.5,695.31 L563,694.98 L563.5,694.87 L564,694.46 L564.5,686 L565,695.42 L565.5,695.52 L566,695 L566.5,695.14 L567,695.62 L567.5,693.75 L568,695.94 L568.5,695.21 L569,694.29 L569.5,694.22 L570,695.89 L570.5,695.86 L571,695.85 L571.5,694.73 L572,685.7 L572.5,685.7 L573,695.04 L573.5,694.61 L574,685.7 L574.5,685.7 L575,695.15 L575.5,694.98 L576,692 L576.5,692 L577,695.44 L577.5,695.38 L578,695.76 L578.5,694.27 L579,695.91 L579.5,695.89 L580,695.13 L580.5,695.71 L581,694.33 L581.5,695.74 L582,695.92 L582.5,695 L583,695.03 L583.5,694.22 L584,690.8 L584.5,695.65 L585,690.41 L585.5,693.65 L586,695.85 L586.5,695.92 L587,694.58 L587.5,695.85 L588,695.62 L588.5,694.26 L589,694.26 L589.5,695.86 L590,693.66 L590.5,693.95 L591,695.51 L591.5,693.81 L592,685.7 L592.5,685.7 L593,694.93 L593.5,695.77 L594,694.61 L594.5,695.57 L595,690.8 L595.5,693.41 L596,694.18 L596.5,695.87 L597,694.31 L597.5,695.68 L598,695.23 L598.5,695.48 L599,693.47 L599.5,693.95 L600,693.84 L600.5,694.67 L601,694.8 L601.5,694.94 L602,695.35 L602.5,686.7 L603,686.7 L603.5,694.8 L604,695.84 L604.5,694.27 L605,695.52 L605.5,693.76 L606,686.7 L606.5,694.6 L607,695.65 L607.5,694.65 L608,695.25 L608.5,695.24 L609,695.36 L609.5,695.25 L610,695.44 L610.5,694.03 L611,694.49 L611.5,694.46 L612,692.88 L612.5,687.67 L613,684.23 L613.5,662 L614,677.83 L614.5,647.3 L615,647.3 L615.5,680.95 L616,686.6 L616.5,666 L617,684.92 L617.5,690.32 L618,693.65 L618.5,691.14 L619,680 L619.5,692.77 L620,694.57 L620.5,695.53 L621,695.01 L621.5,693.9 L622,695.83 L622.5,693.84 L623,695.65 L623.5,695.93 L624,694.11 L624.5,694.4 L625,695.93 L625.5,695.72 L626,694.28 L626.5,694.98 L627,695.74 L627.5,694.28 L628,695.82 L628.5,694.45 L629,695.74 L629.5,693.86 L630,695.9 L630.5,695.89 L631,694.48 L631.5,695.57 L632,695.95 L632.5,695.47 L633,695.36 L633.5,695.21 L634,695.95 L634.5,693.56 L635,695.91 L635.5,694.06 L636,685 L636.5,694.06 L637,695.56 L637.5,695.86 L638,695.68 L638.5,695.95 L639,695.65 L639.5,694.1 L640,695.84 L640.5,694.36 L641,695.94 L641.5,693.81 L642,695.25 L642.5,693.5 L643,695.95 L643.5,695.83 L644,695.8 L644.5,695.95 L645,695.92 L645.5,694.11 L646,695.11 L646.5,695.95 L647,695.07 L647.5,694.4 L648,695.8 L648.5,695.41 L649,694.65 L649.5,693.88 L650,686 L650.5,692.91 L651,694.04 L651.5,694.8 L652,694.13 L652.5,694.06 L653,695.59 L653.5,695.91 L654,695.8 L654.5,695.64 L655,695.89 L655.5,695.83 L656,694.74 L656.5,695.78 L657,694.89 L657.5,693.74 L658,695.94 L658.5,694.72 L659,695.93 L659.5,695.92 L660,695.79 L660.5,694.81 L661,695.81 L661.5,695.89 L662,694.15 L662.5,695.33 L663,693.59 L663.5,691.03 L664,679 L664.5,691 L665,679.3 L665.5,679.3 L666,691.33 L666.5,692.63 L667,682 L667.5,691.64 L668,691.54 L668.5,640.5 L669,687.6 L669.5,694.51 L670,695.11 L670.5,695.82 L671,694.02 L671,696.4 Z" fill="#ee1c24" stroke="#4a4a4a" stroke-width="0.35"/>
<line x1="154.4" y1="678.8" x2="154.4" y2="682.5" stroke="#333" stroke-width="0.75"/>
<line x1="327.5" y1="686.1" x2="327.5" y2="689.3" stroke="#333" stroke-width="0.75"/>
<line x1="344.2" y1="689" x2="344.2" y2="691.2" stroke="#333" stroke-width="0.75"/>
<line x1="361.9" y1="690.5" x2="361.9" y2="692.7" stroke="#333" stroke-width="0.75"/>
<line x1="386.6" y1="691.5" x2="386.6" y2="692.7" stroke="#333" stroke-width="0.75"/>
<line x1="389.5" y1="690.5" x2="389.5" y2="691.7" stroke="#333" stroke-width="0.75"/>
<line x1="398.2" y1="690.5" x2="398.2" y2="692.7" stroke="#333" stroke-width="0.75"/>
<line x1="407.9" y1="690" x2="407.9" y2="691.2" stroke="#333" stroke-width="0.75"/>
<line x1="412.6" y1="692.5" x2="412.6" y2="693.7" stroke="#333" stroke-width="0.75"/>
<line x1="424.4" y1="688.4" x2="424.4" y2="690.6" stroke="#333" stroke-width="0.75"/>
<line x1="443.2" y1="687.4" x2="443.2" y2="688.6" stroke="#333" stroke-width="0.75"/>
<line x1="446.3" y1="687.4" x2="446.3" y2="688.6" stroke="#333" stroke-width="0.75"/>
<line x1="459.1" y1="691.5" x2="459.1" y2="692.7" stroke="#333" stroke-width="0.75"/>
<line x1="477" y1="693.8" x2="477" y2="695" stroke="#333" stroke-width="0.75"/>
<line x1="481.2" y1="687.5" x2="481.2" y2="689.7" stroke="#333" stroke-width="0.75"/>
<line x1="490.4" y1="692.6" x2="490.4" y2="693.8" stroke="#333" stroke-width="0.75"/>
<line x1="495.2" y1="679.7" x2="495.2" y2="682.9" stroke="#333" stroke-width="0.75"/>
<line x1="498.6" y1="689.5" x2="498.6" y2="690.7" stroke="#333" stroke-width="0.75"/>
<line x1="501.1" y1="686.5" x2="501.1" y2="688.7" stroke="#333" stroke-width="0.75"/>
<line x1="505.8" y1="690.6" x2="505.8" y2="691.8" stroke="#333" stroke-width="0.75"/>
<line x1="524.2" y1="690.6" x2="524.2" y2="691.8" stroke="#333" stroke-width="0.75"/>
<line x1="544.5" y1="686.5" x2="544.5" y2="687.7" stroke="#333" stroke-width="0.75"/>
<line x1="547.3" y1="686.5" x2="547.3" y2="687.7" stroke="#333" stroke-width="0.75"/>
<line x1="564.4" y1="685.8" x2="564.4" y2="688.5" stroke="#333" stroke-width="0.75"/>
<line x1="584" y1="690.6" x2="584" y2="691.8" stroke="#333" stroke-width="0.75"/>
<line x1="592.2" y1="685.5" x2="592.2" y2="686.7" stroke="#333" stroke-width="0.75"/>
<line x1="602.8" y1="686.5" x2="602.8" y2="687.7" stroke="#333" stroke-width="0.75"/>
<line x1="605.9" y1="686.5" x2="605.9" y2="687.7" stroke="#333" stroke-width="0.75"/>
<line x1="614.7" y1="647.1" x2="614.7" y2="653.3" stroke="#333" stroke-width="0.75"/>
<line x1="636" y1="684.8" x2="636" y2="686" stroke="#333" stroke-width="0.75"/>
<line x1="664" y1="678.8" x2="664" y2="680" stroke="#333" stroke-width="0.75"/>
<line x1="668.6" y1="640.3" x2="668.6" y2="643.5" stroke="#333" stroke-width="0.75"/>
<line x1="150.4" y1="696.6" x2="671.5" y2="696.6" stroke="#444" stroke-width="0.7"/>
<line x1="36.7" y1="520.5" x2="672" y2="520.5" stroke="#2a2a2a" stroke-width="1" stroke-dasharray="3.1,1.8"/>
<line x1="36.7" y1="579.5" x2="672" y2="579.5" stroke="#2a2a2a" stroke-width="1" stroke-dasharray="3.1,1.8"/>
<line x1="36.7" y1="639.5" x2="672" y2="639.5" stroke="#2a2a2a" stroke-width="1" stroke-dasharray="3.1,1.8"/>
<line x1="34.3" y1="698.5" x2="671" y2="698.5" stroke="#2a2a2a" stroke-width="1" stroke-dasharray="3.1,1.8"/>
<text x="160.5" y="536.3" font-size="12" fill="#231f20">550</text>
<text x="160.5" y="592.3" font-size="12" fill="#231f20">550</text>
<text x="160.5" y="653.4" font-size="12" fill="#231f20">550</text>
<text x="33" y="556.5" font-size="12" fill="#231f20">(ii)</text>
<text x="98.2" y="549.6" font-size="12" fill="#231f20" text-anchor="middle">Pre-rearranged</text>
<text x="98.2" y="564" font-size="12" fill="#231f20" text-anchor="middle">Vκ5-37/Jκ1</text>
<text x="33" y="614.5" font-size="12" fill="#231f20">(iii)</text>
<text x="98.2" y="599.7" font-size="12" fill="#231f20" text-anchor="middle">Vκ18-36</text>
<text x="98.2" y="614.1" font-size="12" fill="#231f20" text-anchor="middle">promoter</text>
<text x="98.2" y="628.2" font-size="12" fill="#231f20" text-anchor="middle">deletion</text>
<text x="33" y="669.5" font-size="12" fill="#231f20">(iv)</text>
<text x="98.2" y="649.8" font-size="12" fill="#231f20" text-anchor="middle">Vκ18-36</text>
<text x="98.2" y="663.7" font-size="12" fill="#231f20" text-anchor="middle">promoter</text>
<text x="98.2" y="678" font-size="12" fill="#231f20" text-anchor="middle">deletion/</text>
<text x="98.2" y="693" font-size="12" fill="#d2232a" text-anchor="middle">Vκ11-125 RSS</text>
<line x1="498.4" y1="700.3" x2="498.4" y2="707.6" stroke="#555" stroke-width="0.9"/>
<line x1="592" y1="700.3" x2="592" y2="707.6" stroke="#555" stroke-width="0.9"/>
<line x1="603.2" y1="700.3" x2="603.2" y2="707.6" stroke="#555" stroke-width="0.9"/>
<line x1="613.8" y1="700.3" x2="613.8" y2="707.6" stroke="#555" stroke-width="0.9"/>
<line x1="650" y1="700.3" x2="650" y2="707.6" stroke="#555" stroke-width="0.9"/>
<text x="498.6" y="718.5" font-size="12" fill="#231f20" text-anchor="middle">T</text>
<text x="591.6" y="718.5" font-size="12" fill="#231f20" text-anchor="middle">T</text>
<text x="616.3" y="718.5" font-size="12" fill="#231f20" text-anchor="middle">T</text>
<text x="650" y="718.5" font-size="12" fill="#231f20" text-anchor="middle">T</text>
<text x="599" y="718.5" font-size="12" fill="#231f20">C</text>
<text x="607.8" y="715.6" font-size="10.5" fill="#231f20">*</text>
<text x="0.6" y="724.8" font-size="13.5" fill="#000" font-weight="bold" stroke="#000" stroke-width="0.45">d</text>
<text x="12.9" y="796" font-size="12" fill="#231f20" text-anchor="middle" transform="rotate(-90 12.9 796)">Relative GRO-seq signal</text>
<line x1="149" y1="730.5" x2="670.5" y2="730.5" stroke="#999" stroke-width="1"/>
<line x1="149" y1="793.5" x2="670.5" y2="793.5" stroke="#999" stroke-width="1"/>
<line x1="30.5" y1="731.5" x2="670.5" y2="731.5" stroke="#2a2a2a" stroke-width="1" stroke-dasharray="3.1,1.8"/>
<line x1="30.5" y1="794.5" x2="670.5" y2="794.5" stroke="#2a2a2a" stroke-width="1" stroke-dasharray="3.1,1.8"/>
<line x1="30.5" y1="859.5" x2="670.5" y2="859.5" stroke="#2a2a2a" stroke-width="1" stroke-dasharray="3.1,1.8"/>
<line x1="149" y1="730.5" x2="149" y2="859.5" stroke="#888" stroke-width="1"/>
<line x1="670.5" y1="730.5" x2="670.5" y2="859.5" stroke="#999" stroke-width="1"/>
<line x1="149.5" y1="760.4" x2="670.5" y2="760.4" stroke="#a0a0a0" stroke-width="1"/>
<rect x="155.5" y="759.68" width="0.8" height="0.72" fill="#555"/>
<rect x="156.5" y="758.89" width="0.8" height="1.51" fill="#555"/>
<rect x="157.5" y="760.4" width="0.8" height="1.69" fill="#666"/>
<rect x="159.5" y="759.73" width="0.8" height="0.67" fill="#555"/>
<rect x="160.5" y="758.45" width="0.8" height="1.95" fill="#555"/>
<rect x="165.5" y="760.4" width="0.8" height="1.37" fill="#2233dd"/>
<rect x="176.5" y="759.89" width="0.8" height="0.51" fill="#555"/>
<rect x="185.5" y="759.89" width="0.8" height="0.51" fill="#555"/>
<rect x="194.5" y="758.86" width="0.8" height="1.54" fill="#555"/>
<rect x="196.5" y="759.79" width="0.8" height="0.61" fill="#555"/>
<rect x="198.5" y="759.72" width="0.8" height="0.68" fill="#555"/>
<rect x="202.5" y="760.4" width="0.8" height="0.46" fill="#666"/>
<rect x="208.5" y="759.15" width="0.8" height="1.25" fill="#555"/>
<rect x="209.5" y="759.34" width="0.8" height="1.06" fill="#555"/>
<rect x="214.5" y="759.9" width="0.8" height="0.5" fill="#555"/>
<rect x="221.5" y="760.4" width="0.8" height="1.06" fill="#666"/>
<rect x="223.5" y="759.56" width="0.8" height="0.84" fill="#555"/>
<rect x="227.5" y="759.66" width="0.8" height="0.74" fill="#555"/>
<rect x="235.5" y="758.84" width="0.8" height="1.56" fill="#555"/>
<rect x="238.5" y="759.89" width="0.8" height="0.51" fill="#555"/>
<rect x="240.5" y="760.4" width="0.8" height="0.94" fill="#2233dd"/>
<rect x="243.5" y="759.6" width="0.8" height="0.8" fill="#555"/>
<rect x="258.5" y="759.74" width="0.8" height="0.66" fill="#555"/>
<rect x="263.5" y="758.44" width="0.8" height="1.96" fill="#555"/>
<rect x="276.5" y="760.4" width="0.8" height="1.25" fill="#666"/>
<rect x="277.5" y="760.4" width="0.8" height="0.73" fill="#2233dd"/>
<rect x="279.5" y="760.4" width="0.8" height="0.79" fill="#2233dd"/>
<rect x="284.5" y="759.84" width="0.8" height="0.56" fill="#555"/>
<rect x="288.5" y="759.36" width="0.8" height="1.04" fill="#555"/>
<rect x="291.5" y="758.84" width="0.8" height="1.56" fill="#555"/>
<rect x="297.5" y="759.48" width="0.8" height="0.92" fill="#555"/>
<rect x="299.5" y="759.9" width="0.8" height="0.5" fill="#555"/>
<rect x="305.5" y="758.8" width="0.8" height="1.6" fill="#555"/>
<rect x="306.5" y="759.7" width="0.8" height="0.7" fill="#555"/>
<rect x="316.5" y="760.4" width="0.8" height="0.56" fill="#666"/>
<rect x="324.5" y="759.64" width="0.8" height="0.76" fill="#555"/>
<rect x="327.5" y="759.61" width="0.8" height="0.79" fill="#555"/>
<rect x="328.5" y="759.19" width="0.8" height="1.21" fill="#555"/>
<rect x="329.5" y="758.52" width="0.8" height="1.88" fill="#555"/>
<rect x="331.5" y="759.81" width="0.8" height="0.59" fill="#ee1c24"/>
<rect x="337.5" y="758.82" width="0.8" height="1.58" fill="#555"/>
<rect x="340.5" y="759.9" width="0.8" height="0.5" fill="#555"/>
<rect x="342.5" y="759.82" width="0.8" height="0.58" fill="#555"/>
<rect x="343.5" y="760.4" width="0.8" height="0.58" fill="#666"/>
<rect x="345.5" y="759.27" width="0.8" height="1.13" fill="#555"/>
<rect x="347.5" y="759.8" width="0.8" height="0.6" fill="#555"/>
<rect x="350.5" y="759.75" width="0.8" height="0.65" fill="#555"/>
<rect x="350.5" y="760.4" width="0.8" height="1.3" fill="#2233dd"/>
<rect x="352.5" y="759.83" width="0.8" height="0.57" fill="#ee1c24"/>
<rect x="353.5" y="759.15" width="0.8" height="1.25" fill="#ee1c24"/>
<rect x="354.5" y="759.84" width="0.8" height="0.56" fill="#ee1c24"/>
<rect x="354.5" y="760.4" width="0.8" height="1.03" fill="#2233dd"/>
<rect x="355.5" y="758.66" width="0.8" height="1.74" fill="#555"/>
<rect x="355.5" y="760.4" width="0.8" height="1.08" fill="#666"/>
<rect x="359.5" y="759.71" width="0.8" height="0.69" fill="#555"/>
<rect x="361.5" y="758.9" width="0.8" height="1.5" fill="#ee1c24"/>
<rect x="364.5" y="759.52" width="0.8" height="0.88" fill="#ee1c24"/>
<rect x="365.5" y="759.73" width="0.8" height="0.67" fill="#ee1c24"/>
<rect x="365.5" y="760.4" width="0.8" height="0.45" fill="#2233dd"/>
<rect x="367.5" y="759.88" width="0.8" height="0.52" fill="#ee1c24"/>
<rect x="367.5" y="760.4" width="0.8" height="0.61" fill="#666"/>
<rect x="368.5" y="759.12" width="0.8" height="1.28" fill="#ee1c24"/>
<rect x="368.5" y="760.4" width="0.8" height="0.48" fill="#666"/>
<rect x="369.5" y="759.83" width="0.8" height="0.57" fill="#555"/>
<rect x="371.5" y="759.75" width="0.8" height="0.65" fill="#ee1c24"/>
<rect x="372.5" y="758.91" width="0.8" height="1.49" fill="#ee1c24"/>
<rect x="375.5" y="760.4" width="0.8" height="1.61" fill="#666"/>
<rect x="377.5" y="759.71" width="0.8" height="0.69" fill="#555"/>
<rect x="378.5" y="758.87" width="0.8" height="1.53" fill="#ee1c24"/>
<rect x="379.5" y="759.73" width="0.8" height="0.67" fill="#555"/>
<rect x="380.5" y="759.75" width="0.8" height="0.65" fill="#ee1c24"/>
<rect x="382.5" y="758.7" width="0.8" height="1.7" fill="#ee1c24"/>
<rect x="385.5" y="759.51" width="0.8" height="0.89" fill="#ee1c24"/>
<rect x="386.5" y="758.57" width="0.8" height="1.83" fill="#ee1c24"/>
<rect x="387.5" y="759.83" width="0.8" height="0.57" fill="#555"/>
<rect x="391.5" y="759.77" width="0.8" height="0.63" fill="#555"/>
<rect x="393.5" y="758.63" width="0.8" height="1.77" fill="#555"/>
<rect x="393.5" y="760.4" width="0.8" height="1" fill="#666"/>
<rect x="397.5" y="758.37" width="0.8" height="2.03" fill="#ee1c24"/>
<rect x="399.5" y="758.89" width="0.8" height="1.51" fill="#555"/>
<rect x="406.5" y="759.87" width="0.8" height="0.53" fill="#ee1c24"/>
<rect x="406.5" y="760.4" width="0.8" height="0.4" fill="#2233dd"/>
<rect x="408.5" y="759.25" width="0.8" height="1.15" fill="#ee1c24"/>
<rect x="409.5" y="759.58" width="0.8" height="0.82" fill="#555"/>
<rect x="410.5" y="759.05" width="0.8" height="1.35" fill="#ee1c24"/>
<rect x="415.5" y="759.71" width="0.8" height="0.69" fill="#555"/>
<rect x="417.5" y="758.92" width="0.8" height="1.48" fill="#ee1c24"/>
<rect x="418.5" y="759.71" width="0.8" height="0.69" fill="#ee1c24"/>
<rect x="418.5" y="760.4" width="0.8" height="1.24" fill="#2233dd"/>
<rect x="421.5" y="760.4" width="0.8" height="1.15" fill="#2233dd"/>
<rect x="423.5" y="759.82" width="0.8" height="0.58" fill="#ee1c24"/>
<rect x="426.5" y="759.75" width="0.8" height="0.65" fill="#ee1c24"/>
<rect x="427.5" y="760.4" width="0.8" height="1.61" fill="#666"/>
<rect x="432.5" y="759.08" width="0.8" height="1.32" fill="#ee1c24"/>
<rect x="433.5" y="759.42" width="0.8" height="0.98" fill="#ee1c24"/>
<rect x="434.5" y="760.4" width="0.8" height="0.52" fill="#2233dd"/>
<rect x="436.5" y="758.45" width="0.8" height="1.95" fill="#555"/>
<rect x="440.5" y="759.76" width="0.8" height="0.64" fill="#555"/>
<rect x="441.5" y="758.57" width="0.8" height="1.83" fill="#ee1c24"/>
<rect x="442.5" y="759.79" width="0.8" height="0.61" fill="#ee1c24"/>
<rect x="443.5" y="759.45" width="0.8" height="0.95" fill="#ee1c24"/>
<rect x="443.5" y="760.4" width="0.8" height="0.45" fill="#2233dd"/>
<rect x="444.5" y="759.76" width="0.8" height="0.64" fill="#555"/>
<rect x="450.5" y="759.18" width="0.8" height="1.22" fill="#555"/>
<rect x="451.5" y="760.4" width="0.8" height="1.08" fill="#2233dd"/>
<rect x="454.5" y="758.7" width="0.8" height="1.7" fill="#555"/>
<rect x="455.5" y="759.76" width="0.8" height="0.64" fill="#555"/>
<rect x="459.5" y="759.6" width="0.8" height="0.8" fill="#ee1c24"/>
<rect x="462.5" y="759.76" width="0.8" height="0.64" fill="#ee1c24"/>
<rect x="467.5" y="759.69" width="0.8" height="0.71" fill="#ee1c24"/>
<rect x="468.5" y="760.4" width="0.8" height="1" fill="#666"/>
<rect x="469.5" y="759.84" width="0.8" height="0.56" fill="#ee1c24"/>
<rect x="470.5" y="758.95" width="0.8" height="1.45" fill="#ee1c24"/>
<rect x="472.5" y="758.44" width="0.8" height="1.96" fill="#555"/>
<rect x="474.5" y="759.65" width="0.8" height="0.75" fill="#555"/>
<rect x="475.5" y="759.86" width="0.8" height="0.54" fill="#ee1c24"/>
<rect x="478.5" y="759.18" width="0.8" height="1.22" fill="#ee1c24"/>
<rect x="479.5" y="759.88" width="0.8" height="0.52" fill="#ee1c24"/>
<rect x="479.5" y="760.4" width="0.8" height="0.59" fill="#666"/>
<rect x="480.5" y="758.89" width="0.8" height="1.51" fill="#ee1c24"/>
<rect x="480.5" y="760.4" width="0.8" height="1.09" fill="#2233dd"/>
<rect x="482.5" y="759.8" width="0.8" height="0.6" fill="#ee1c24"/>
<rect x="483.5" y="759.88" width="0.8" height="0.52" fill="#ee1c24"/>
<rect x="486.5" y="759.24" width="0.8" height="1.16" fill="#ee1c24"/>
<rect x="488.5" y="759.78" width="0.8" height="0.62" fill="#555"/>
<rect x="491.5" y="758.47" width="0.8" height="1.93" fill="#555"/>
<rect x="491.5" y="760.4" width="0.8" height="0.57" fill="#666"/>
<rect x="493.5" y="758.42" width="0.8" height="1.98" fill="#ee1c24"/>
<rect x="497.5" y="759.82" width="0.8" height="0.58" fill="#ee1c24"/>
<rect x="498.5" y="759.42" width="0.8" height="0.98" fill="#555"/>
<rect x="498.5" y="760.4" width="0.8" height="0.91" fill="#666"/>
<rect x="500.5" y="758.59" width="0.8" height="1.81" fill="#555"/>
<rect x="500.5" y="760.4" width="0.8" height="1.24" fill="#2233dd"/>
<rect x="502.5" y="759.62" width="0.8" height="0.78" fill="#ee1c24"/>
<rect x="503.5" y="759.85" width="0.8" height="0.55" fill="#555"/>
<rect x="503.5" y="760.4" width="0.8" height="0.87" fill="#666"/>
<rect x="506.5" y="759.36" width="0.8" height="1.04" fill="#ee1c24"/>
<rect x="508.5" y="760.4" width="0.8" height="0.71" fill="#2233dd"/>
<rect x="509.5" y="759.68" width="0.8" height="0.72" fill="#ee1c24"/>
<rect x="510.5" y="759.43" width="0.8" height="0.97" fill="#ee1c24"/>
<rect x="512.5" y="759.1" width="0.8" height="1.3" fill="#555"/>
<rect x="514.5" y="760.4" width="0.8" height="1.12" fill="#2233dd"/>
<rect x="515.5" y="760.4" width="0.8" height="0.86" fill="#2233dd"/>
<rect x="516.5" y="759.79" width="0.8" height="0.61" fill="#555"/>
<rect x="517.5" y="758.9" width="0.8" height="1.5" fill="#555"/>
<rect x="520.5" y="758.92" width="0.8" height="1.48" fill="#ee1c24"/>
<rect x="522.5" y="759.19" width="0.8" height="1.21" fill="#ee1c24"/>
<rect x="522.5" y="760.4" width="0.8" height="0.7" fill="#666"/>
<rect x="524.5" y="759.45" width="0.8" height="0.95" fill="#ee1c24"/>
<rect x="525.5" y="760.4" width="0.8" height="0.49" fill="#2233dd"/>
<rect x="527.5" y="758.54" width="0.8" height="1.86" fill="#555"/>
<rect x="527.5" y="760.4" width="0.8" height="1.55" fill="#666"/>
<rect x="528.5" y="758.7" width="0.8" height="1.7" fill="#ee1c24"/>
<rect x="529.5" y="758.44" width="0.8" height="1.96" fill="#ee1c24"/>
<rect x="530.5" y="758.83" width="0.8" height="1.57" fill="#ee1c24"/>
<rect x="531.5" y="759.42" width="0.8" height="0.98" fill="#555"/>
<rect x="532.5" y="759.25" width="0.8" height="1.15" fill="#555"/>
<rect x="534.5" y="759.9" width="0.8" height="0.5" fill="#555"/>
<rect x="535.5" y="760.4" width="0.8" height="0.99" fill="#2233dd"/>
<rect x="536.5" y="758.79" width="0.8" height="1.61" fill="#ee1c24"/>
<rect x="537.5" y="760.4" width="0.8" height="1.39" fill="#666"/>
<rect x="538.5" y="759.53" width="0.8" height="0.87" fill="#555"/>
<rect x="539.5" y="759.79" width="0.8" height="0.61" fill="#555"/>
<rect x="540.5" y="759.8" width="0.8" height="0.6" fill="#ee1c24"/>
<rect x="541.5" y="759.72" width="0.8" height="0.68" fill="#555"/>
<rect x="542.5" y="759.09" width="0.8" height="1.31" fill="#ee1c24"/>
<rect x="543.5" y="758.84" width="0.8" height="1.56" fill="#ee1c24"/>
<rect x="545.5" y="759.31" width="0.8" height="1.09" fill="#ee1c24"/>
<rect x="545.5" y="760.4" width="0.8" height="1.42" fill="#666"/>
<rect x="548.5" y="758.36" width="0.8" height="2.04" fill="#ee1c24"/>
<rect x="550.5" y="758.9" width="0.8" height="1.5" fill="#ee1c24"/>
<rect x="552.5" y="759.21" width="0.8" height="1.19" fill="#ee1c24"/>
<rect x="553.5" y="758.97" width="0.8" height="1.43" fill="#ee1c24"/>
<rect x="554.5" y="759.83" width="0.8" height="0.57" fill="#555"/>
<rect x="555.5" y="759.3" width="0.8" height="1.1" fill="#ee1c24"/>
<rect x="556.5" y="759.9" width="0.8" height="0.5" fill="#ee1c24"/>
<rect x="557.5" y="759.3" width="0.8" height="1.1" fill="#ee1c24"/>
<rect x="558.5" y="760.4" width="0.8" height="1.19" fill="#666"/>
<rect x="564.5" y="759.85" width="0.8" height="0.55" fill="#ee1c24"/>
<rect x="567.5" y="759.24" width="0.8" height="1.16" fill="#ee1c24"/>
<rect x="568.5" y="758.61" width="0.8" height="1.79" fill="#555"/>
<rect x="569.5" y="759.23" width="0.8" height="1.17" fill="#555"/>
<rect x="571.5" y="758.72" width="0.8" height="1.68" fill="#ee1c24"/>
<rect x="574.5" y="760.4" width="0.8" height="0.8" fill="#2233dd"/>
<rect x="577.5" y="759.58" width="0.8" height="0.82" fill="#ee1c24"/>
<rect x="578.5" y="759.04" width="0.8" height="1.36" fill="#ee1c24"/>
<rect x="580.5" y="759.58" width="0.8" height="0.82" fill="#555"/>
<rect x="580.5" y="760.4" width="0.8" height="1.64" fill="#2233dd"/>
<rect x="581.5" y="759.77" width="0.8" height="0.63" fill="#ee1c24"/>
<rect x="582.5" y="760.4" width="0.8" height="0.57" fill="#666"/>
<rect x="583.5" y="759.73" width="0.8" height="0.67" fill="#ee1c24"/>
<rect x="583.5" y="760.4" width="0.8" height="0.52" fill="#2233dd"/>
<rect x="585.5" y="759.22" width="0.8" height="1.18" fill="#ee1c24"/>
<rect x="586.5" y="759.29" width="0.8" height="1.11" fill="#ee1c24"/>
<rect x="588.5" y="760.4" width="0.8" height="1.58" fill="#2233dd"/>
<rect x="589.5" y="759.57" width="0.8" height="0.83" fill="#555"/>
<rect x="591.5" y="759.83" width="0.8" height="0.57" fill="#555"/>
<rect x="592.5" y="759.9" width="0.8" height="0.5" fill="#555"/>
<rect x="593.5" y="759.55" width="0.8" height="0.85" fill="#ee1c24"/>
<rect x="594.5" y="759.3" width="0.8" height="1.1" fill="#555"/>
<rect x="594.5" y="760.4" width="0.8" height="0.46" fill="#666"/>
<rect x="596.5" y="759.29" width="0.8" height="1.11" fill="#555"/>
<rect x="598.5" y="759.9" width="0.8" height="0.5" fill="#555"/>
<rect x="598.5" y="760.4" width="0.8" height="0.75" fill="#2233dd"/>
<rect x="600.5" y="759.83" width="0.8" height="0.57" fill="#555"/>
<rect x="601.5" y="758.41" width="0.8" height="1.99" fill="#ee1c24"/>
<rect x="603.5" y="759.9" width="0.8" height="0.5" fill="#555"/>
<rect x="604.5" y="758.81" width="0.8" height="1.59" fill="#ee1c24"/>
<rect x="605.5" y="759.82" width="0.8" height="0.58" fill="#ee1c24"/>
<rect x="607.5" y="759.68" width="0.8" height="0.72" fill="#555"/>
<rect x="608.5" y="758.69" width="0.8" height="1.71" fill="#ee1c24"/>
<rect x="610.5" y="759.72" width="0.8" height="0.68" fill="#ee1c24"/>
<rect x="611.5" y="759.8" width="0.8" height="0.6" fill="#555"/>
<rect x="613.5" y="759.9" width="0.8" height="0.5" fill="#555"/>
<rect x="615.5" y="759.46" width="0.8" height="0.94" fill="#ee1c24"/>
<rect x="616.5" y="759.48" width="0.8" height="0.92" fill="#ee1c24"/>
<rect x="617.5" y="759.89" width="0.8" height="0.51" fill="#ee1c24"/>
<rect x="617.5" y="760.4" width="0.8" height="1.65" fill="#2233dd"/>
<rect x="621.5" y="759.6" width="0.8" height="0.8" fill="#555"/>
<rect x="621.5" y="760.4" width="0.8" height="1.39" fill="#666"/>
<rect x="623.5" y="760.4" width="0.8" height="0.48" fill="#2233dd"/>
<rect x="624.5" y="759.89" width="0.8" height="0.51" fill="#555"/>
<rect x="626.5" y="760.4" width="0.8" height="0.74" fill="#2233dd"/>
<rect x="627.5" y="760.4" width="0.8" height="0.79" fill="#2233dd"/>
<rect x="628.5" y="760.4" width="0.8" height="0.78" fill="#666"/>
<rect x="629.5" y="758.39" width="0.8" height="2.01" fill="#555"/>
<rect x="630.5" y="759.51" width="0.8" height="0.89" fill="#555"/>
<rect x="630.5" y="760.4" width="0.8" height="1.14" fill="#666"/>
<rect x="631.5" y="759.32" width="0.8" height="1.08" fill="#ee1c24"/>
<rect x="631.5" y="760.4" width="0.8" height="0.75" fill="#2233dd"/>
<rect x="633.5" y="758.55" width="0.8" height="1.85" fill="#ee1c24"/>
<rect x="634.5" y="758.61" width="0.8" height="1.79" fill="#555"/>
<rect x="635.5" y="758.73" width="0.8" height="1.67" fill="#555"/>
<rect x="638.5" y="759.32" width="0.8" height="1.08" fill="#ee1c24"/>
<rect x="641.5" y="759.72" width="0.8" height="0.68" fill="#ee1c24"/>
<rect x="642.5" y="759.76" width="0.8" height="0.64" fill="#555"/>
<rect x="642.5" y="760.4" width="0.8" height="1.49" fill="#666"/>
<rect x="643.5" y="760.4" width="0.8" height="0.51" fill="#2233dd"/>
<rect x="645.5" y="759.89" width="0.8" height="0.51" fill="#555"/>
<rect x="645.5" y="760.4" width="0.8" height="1.44" fill="#2233dd"/>
<rect x="649.5" y="758.91" width="0.8" height="1.49" fill="#ee1c24"/>
<rect x="652.5" y="759.88" width="0.8" height="0.52" fill="#555"/>
<rect x="652.5" y="760.4" width="0.8" height="0.44" fill="#2233dd"/>
<rect x="653.5" y="758.31" width="0.8" height="2.09" fill="#ee1c24"/>
<rect x="654.5" y="759.11" width="0.8" height="1.29" fill="#ee1c24"/>
<rect x="654.5" y="760.4" width="0.8" height="1.02" fill="#666"/>
<rect x="655.5" y="759.89" width="0.8" height="0.51" fill="#ee1c24"/>
<rect x="656.5" y="759.87" width="0.8" height="0.53" fill="#555"/>
<rect x="657.5" y="759.9" width="0.8" height="0.5" fill="#555"/>
<rect x="657.5" y="760.4" width="0.8" height="0.41" fill="#2233dd"/>
<rect x="658.5" y="760.4" width="0.8" height="0.69" fill="#666"/>
<rect x="659.5" y="759.66" width="0.8" height="0.74" fill="#555"/>
<rect x="660.5" y="759.44" width="0.8" height="0.96" fill="#555"/>
<rect x="661.5" y="760.4" width="0.8" height="0.4" fill="#666"/>
<rect x="662.5" y="758.42" width="0.8" height="1.98" fill="#ee1c24"/>
<rect x="664.5" y="760.4" width="0.8" height="0.66" fill="#666"/>
<rect x="665.5" y="759.85" width="0.8" height="0.55" fill="#555"/>
<rect x="667.5" y="760.4" width="0.8" height="0.99" fill="#666"/>
<polygon points="385.8,760.4 385.8,760.4 386.3,755.4 386.8,753.71 387.3,750.7 387.8,756.88 388.3,753.4 388.8,756.77 389.3,751.9 389.8,754.6 390.3,754.47 390.8,756.4 391.3,756.9 391.8,756.87 392.3,757.15 392.8,757.4 393.3,759.08 393.8,758 394.3,758.32 394.8,759.51 395.3,758.9 395.6,760.4" fill="#ee1c24" stroke="#333" stroke-width="0.35" stroke-linejoin="miter"/>
<polygon points="361.8,760.4 361.8,760.4 362.3,757 362.8,759.02 363.3,759.09 363.8,758.4 364.3,759.2 364.8,758.93 365.3,759.74 365.8,759.4 366.3,760.4 366.3,760.4" fill="#ee1c24" stroke="#333" stroke-width="0.35" stroke-linejoin="miter"/>
<polygon points="410.8,760.4 410.8,760.4 411.3,755 411.8,756.25 412.3,756.4 412.8,756.82 413.3,758.18 413.8,757.9 414.3,758.29 414.8,759.74 415.3,759.52 415.8,759.4 416.3,760.4 416.3,760.4" fill="#ee1c24" stroke="#333" stroke-width="0.35" stroke-linejoin="miter"/>
<polygon points="425.2,760.4 425.2,760.4 425.7,759.06 426.2,757.9 426.7,757.59 427.2,758.85 427.7,758.19 428.2,757 428.7,758.26 429.2,758.96 429.7,758.23 430.2,758.27 430.7,758.91 431.2,758.4 431.7,758.89 432.2,757.66 432.7,755.85 433.2,756.69 433.7,753.9 434.2,757.33 434.7,758 435.2,757.9 435.7,758.47 436.2,758.85 436.7,759.48 437.2,759.4 437.5,760.4" fill="#ee1c24" stroke="#333" stroke-width="0.35" stroke-linejoin="miter"/>
<polygon points="462.8,760.4 462.8,760.4 463.3,756 463.8,756.75 464.3,758.64 464.8,757.9 465.3,759.62 465.8,759.72 466.3,760.4 466.3,760.4" fill="#ee1c24" stroke="#333" stroke-width="0.35" stroke-linejoin="miter"/>
<polygon points="492.8,760.4 492.8,760.4 493.3,745.4 493.8,733 494.3,750.4 494.8,748.68 495.3,733.8 495.8,751.67 496.3,748.4 496.8,748.7 497.3,743.8 497.8,754.34 498.3,752.4 498.8,753.38 499.3,741.1 499.8,750.75 500.3,751.4 500.8,750.05 501.3,751.69 501.8,746.1 502.3,752.04 502.8,753.4 503.3,750.8 503.8,756.15 504.3,756.4 504.8,757.8 505.3,758.49 505.8,759.26 506.3,758.77 506.8,758.9 507.3,760.4 507.3,760.4" fill="#ee1c24" stroke="#333" stroke-width="0.35" stroke-linejoin="miter"/>
<polygon points="544.2,760.4 544.2,760.4 544.7,759.42 545.2,756.9 545.7,757.96 546.2,757.58 546.7,758.43 547.2,757.9 547.7,758.54 548.2,758.25 548.7,757.93 549.2,757.4 549.7,758 550.2,758.69 550.7,759.35 551.2,758.85 551.7,759.24 552.2,759.4 552.6,760.4" fill="#ee1c24" stroke="#333" stroke-width="0.35" stroke-linejoin="miter"/>
<polygon points="561.3,760.4 561.3,760.4 561.8,757 562.3,758.04 562.8,759.28 563.3,758.68 563.8,759.4 564.3,760.4 564.3,760.4" fill="#ee1c24" stroke="#333" stroke-width="0.35" stroke-linejoin="miter"/>
<polygon points="590,760.4 590,760.4 590.5,759.47 591,758.4 591.5,754.85 592,753.32 592.5,747.3 593,753.36 593.5,756.4 594,757.21 594.5,758.07 595,758.4 595.5,759.5 596,760.4 596,760.4" fill="#ee1c24" stroke="#333" stroke-width="0.35" stroke-linejoin="miter"/>
<polygon points="611.2,760.4 611.2,760.4 611.7,751.3 612.2,757.08 612.7,752.47 613.2,752.4 613.7,753.77 614.2,753.9 614.7,754.98 615.2,753.8 615.7,751.3 616.2,757.32 616.7,755.4 617.2,758.99 617.7,758.8 618.2,760.4 618.3,760.4" fill="#ee1c24" stroke="#333" stroke-width="0.35" stroke-linejoin="miter"/>
<polygon points="646.8,760.4 646.8,760.4 647.3,757.9 647.8,759.25 648.3,758.26 648.8,756.9 649.3,756.08 649.8,751.37 650.3,747.48 650.8,740.8 651.3,756.4 651.8,757.71 652.3,759.2 652.8,759.08 653.3,758.4 653.7,760.4" fill="#ee1c24" stroke="#333" stroke-width="0.35" stroke-linejoin="miter"/>
<polygon points="666.4,760.4 666.4,760.4 666.9,756.4 667.4,755.71 667.9,754.79 668.4,747.3 668.9,751.79 669.4,754.4 669.7,760.4" fill="#ee1c24" stroke="#333" stroke-width="0.35" stroke-linejoin="miter"/>
<polygon points="152.8,760.4 152.8,760.4 153.3,757.9 153.8,760.4 153.8,760.4" fill="#ee1c24" stroke="#333" stroke-width="0.35" stroke-linejoin="miter"/>
<polygon points="385.8,760.4 385.8,760.4 386.3,764.4 386.8,762.42 387.3,760.4 387.3,760.4" fill="#2030dd" stroke="#333" stroke-width="0.35" stroke-linejoin="miter"/>
<polygon points="424.8,760.4 424.8,760.4 425.3,763 425.8,761.15 426.2,760.4" fill="#2030dd" stroke="#333" stroke-width="0.35" stroke-linejoin="miter"/>
<polygon points="491,760.4 491,760.4 491.5,763.4 492,765.4 492.5,763.97 493,763.9 493.5,763.29 494,765.2 494.5,763.12 495,762 495.5,760.4 495.5,760.4" fill="#2030dd" stroke="#333" stroke-width="0.35" stroke-linejoin="miter"/>
<polygon points="524.2,760.4 524.2,760.4 524.7,763 525.2,760.4 525.2,760.4" fill="#2030dd" stroke="#333" stroke-width="0.35" stroke-linejoin="miter"/>
<polygon points="612.5,760.4 612.5,760.4 613,765.4 613.5,764.64 614,769.7 614.5,767.39 615,766.4 615.5,765.49 616,762.64 616.5,763.4 617,760.4 617,760.4" fill="#2030dd" stroke="#333" stroke-width="0.35" stroke-linejoin="miter"/>
<polygon points="647.5,760.4 647.5,760.4 648,762.4 648.5,760.4 648.6,760.4" fill="#2030dd" stroke="#333" stroke-width="0.35" stroke-linejoin="miter"/>
<polygon points="326.9,760.4 326.9,760.4 327.4,762.7 327.9,760.4 327.9,760.4" fill="#2030dd" stroke="#333" stroke-width="0.35" stroke-linejoin="miter"/>
<polygon points="342.2,760.4 342.2,760.4 342.7,762.7 343.2,760.4 343.2,760.4" fill="#2030dd" stroke="#333" stroke-width="0.35" stroke-linejoin="miter"/>
<polygon points="445.1,760.4 445.1,760.4 445.6,762.4 446.1,760.4 446.1,760.4" fill="#2030dd" stroke="#333" stroke-width="0.35" stroke-linejoin="miter"/>
<polygon points="152.8,760.4 152.8,760.4 153.3,762.4 153.8,760.4 153.8,760.4" fill="#2030dd" stroke="#333" stroke-width="0.35" stroke-linejoin="miter"/>
<line x1="149.5" y1="826.8" x2="670.5" y2="826.8" stroke="#a0a0a0" stroke-width="1"/>
<rect x="151.5" y="824.7" width="0.8" height="2.1" fill="#555"/>
<rect x="158.5" y="825.06" width="0.8" height="1.74" fill="#555"/>
<rect x="169.5" y="825.85" width="0.8" height="0.95" fill="#555"/>
<rect x="169.5" y="826.8" width="0.8" height="1.51" fill="#666"/>
<rect x="181.5" y="825.02" width="0.8" height="1.78" fill="#555"/>
<rect x="184.5" y="826.8" width="0.8" height="0.77" fill="#666"/>
<rect x="186.5" y="826.8" width="0.8" height="0.62" fill="#666"/>
<rect x="195.5" y="825.9" width="0.8" height="0.9" fill="#555"/>
<rect x="198.5" y="826.8" width="0.8" height="1.62" fill="#2233dd"/>
<rect x="199.5" y="826.23" width="0.8" height="0.57" fill="#555"/>
<rect x="205.5" y="826.07" width="0.8" height="0.73" fill="#555"/>
<rect x="206.5" y="826.23" width="0.8" height="0.57" fill="#555"/>
<rect x="213.5" y="825.9" width="0.8" height="0.9" fill="#555"/>
<rect x="214.5" y="825.92" width="0.8" height="0.88" fill="#555"/>
<rect x="214.5" y="826.8" width="0.8" height="1.16" fill="#2233dd"/>
<rect x="219.5" y="826.8" width="0.8" height="0.59" fill="#666"/>
<rect x="231.5" y="826.8" width="0.8" height="0.59" fill="#2233dd"/>
<rect x="236.5" y="824.86" width="0.8" height="1.94" fill="#555"/>
<rect x="238.5" y="826.29" width="0.8" height="0.51" fill="#555"/>
<rect x="247.5" y="824.93" width="0.8" height="1.87" fill="#555"/>
<rect x="248.5" y="826.14" width="0.8" height="0.66" fill="#555"/>
<rect x="255.5" y="824.85" width="0.8" height="1.95" fill="#555"/>
<rect x="258.5" y="826.8" width="0.8" height="1.69" fill="#666"/>
<rect x="259.5" y="825.93" width="0.8" height="0.87" fill="#555"/>
<rect x="264.5" y="825.55" width="0.8" height="1.25" fill="#555"/>
<rect x="266.5" y="826.8" width="0.8" height="0.41" fill="#2233dd"/>
<rect x="270.5" y="824.94" width="0.8" height="1.86" fill="#555"/>
<rect x="286.5" y="826.8" width="0.8" height="0.88" fill="#2233dd"/>
<rect x="291.5" y="826.8" width="0.8" height="0.65" fill="#666"/>
<rect x="294.5" y="826.08" width="0.8" height="0.72" fill="#555"/>
<rect x="300.5" y="826.8" width="0.8" height="0.42" fill="#2233dd"/>
<rect x="306.5" y="826.11" width="0.8" height="0.69" fill="#555"/>
<rect x="313.5" y="825.69" width="0.8" height="1.11" fill="#555"/>
<rect x="317.5" y="826.8" width="0.8" height="1.27" fill="#2233dd"/>
<rect x="319.5" y="826.8" width="0.8" height="0.42" fill="#2233dd"/>
<rect x="326.5" y="825.01" width="0.8" height="1.79" fill="#555"/>
<rect x="328.5" y="825.01" width="0.8" height="1.79" fill="#555"/>
<rect x="330.5" y="826.8" width="0.8" height="0.43" fill="#2233dd"/>
<rect x="332.5" y="826.1" width="0.8" height="0.7" fill="#ee1c24"/>
<rect x="333.5" y="826.03" width="0.8" height="0.77" fill="#ee1c24"/>
<rect x="334.5" y="825.03" width="0.8" height="1.77" fill="#ee1c24"/>
<rect x="336.5" y="826.28" width="0.8" height="0.52" fill="#ee1c24"/>
<rect x="339.5" y="826.15" width="0.8" height="0.65" fill="#ee1c24"/>
<rect x="340.5" y="826.23" width="0.8" height="0.57" fill="#ee1c24"/>
<rect x="342.5" y="826.3" width="0.8" height="0.5" fill="#ee1c24"/>
<rect x="343.5" y="826.02" width="0.8" height="0.78" fill="#555"/>
<rect x="343.5" y="826.8" width="0.8" height="1.07" fill="#666"/>
<rect x="346.5" y="825.88" width="0.8" height="0.92" fill="#ee1c24"/>
<rect x="347.5" y="826.26" width="0.8" height="0.54" fill="#ee1c24"/>
<rect x="348.5" y="825.81" width="0.8" height="0.99" fill="#ee1c24"/>
<rect x="349.5" y="825.73" width="0.8" height="1.07" fill="#555"/>
<rect x="351.5" y="826.15" width="0.8" height="0.65" fill="#555"/>
<rect x="352.5" y="826.02" width="0.8" height="0.78" fill="#555"/>
<rect x="352.5" y="826.8" width="0.8" height="0.42" fill="#2233dd"/>
<rect x="354.5" y="825.36" width="0.8" height="1.44" fill="#ee1c24"/>
<rect x="357.5" y="826.09" width="0.8" height="0.71" fill="#ee1c24"/>
<rect x="359.5" y="826.29" width="0.8" height="0.51" fill="#555"/>
<rect x="364.5" y="826" width="0.8" height="0.8" fill="#ee1c24"/>
<rect x="367.5" y="826.1" width="0.8" height="0.7" fill="#ee1c24"/>
<rect x="374.5" y="824.99" width="0.8" height="1.81" fill="#555"/>
<rect x="376.5" y="826.3" width="0.8" height="0.5" fill="#555"/>
<rect x="378.5" y="825.55" width="0.8" height="1.25" fill="#ee1c24"/>
<rect x="380.5" y="826.8" width="0.8" height="0.44" fill="#2233dd"/>
<rect x="381.5" y="825.86" width="0.8" height="0.94" fill="#ee1c24"/>
<rect x="381.5" y="826.8" width="0.8" height="0.41" fill="#666"/>
<rect x="383.5" y="826.8" width="0.8" height="1.2" fill="#2233dd"/>
<rect x="384.5" y="825.88" width="0.8" height="0.92" fill="#555"/>
<rect x="392.5" y="825.98" width="0.8" height="0.82" fill="#555"/>
<rect x="393.5" y="826.22" width="0.8" height="0.58" fill="#ee1c24"/>
<rect x="394.5" y="826.15" width="0.8" height="0.65" fill="#ee1c24"/>
<rect x="397.5" y="826.8" width="0.8" height="0.61" fill="#666"/>
<rect x="399.5" y="825.94" width="0.8" height="0.86" fill="#555"/>
<rect x="401.5" y="825.9" width="0.8" height="0.9" fill="#555"/>
<rect x="401.5" y="826.8" width="0.8" height="0.76" fill="#666"/>
<rect x="403.5" y="826.3" width="0.8" height="0.5" fill="#ee1c24"/>
<rect x="408.5" y="825.01" width="0.8" height="1.79" fill="#555"/>
<rect x="409.5" y="826.28" width="0.8" height="0.52" fill="#555"/>
<rect x="417.5" y="825.93" width="0.8" height="0.87" fill="#ee1c24"/>
<rect x="418.5" y="826.01" width="0.8" height="0.79" fill="#555"/>
<rect x="419.5" y="825.9" width="0.8" height="0.9" fill="#ee1c24"/>
<rect x="424.5" y="825.93" width="0.8" height="0.87" fill="#ee1c24"/>
<rect x="425.5" y="825.15" width="0.8" height="1.65" fill="#ee1c24"/>
<rect x="426.5" y="825.7" width="0.8" height="1.1" fill="#ee1c24"/>
<rect x="427.5" y="826.29" width="0.8" height="0.51" fill="#555"/>
<rect x="432.5" y="825.88" width="0.8" height="0.92" fill="#555"/>
<rect x="434.5" y="826.8" width="0.8" height="0.92" fill="#666"/>
<rect x="435.5" y="826.07" width="0.8" height="0.73" fill="#555"/>
<rect x="436.5" y="826.8" width="0.8" height="0.49" fill="#666"/>
<rect x="437.5" y="825.93" width="0.8" height="0.87" fill="#555"/>
<rect x="440.5" y="825.89" width="0.8" height="0.91" fill="#555"/>
<rect x="444.5" y="826.8" width="0.8" height="1.07" fill="#2233dd"/>
<rect x="445.5" y="826.28" width="0.8" height="0.52" fill="#555"/>
<rect x="447.5" y="824.92" width="0.8" height="1.88" fill="#555"/>
<rect x="447.5" y="826.8" width="0.8" height="0.83" fill="#666"/>
<rect x="448.5" y="826.08" width="0.8" height="0.72" fill="#ee1c24"/>
<rect x="449.5" y="825.67" width="0.8" height="1.13" fill="#ee1c24"/>
<rect x="452.5" y="825.29" width="0.8" height="1.51" fill="#555"/>
<rect x="453.5" y="826.28" width="0.8" height="0.52" fill="#555"/>
<rect x="454.5" y="826.21" width="0.8" height="0.59" fill="#ee1c24"/>
<rect x="454.5" y="826.8" width="0.8" height="0.93" fill="#666"/>
<rect x="455.5" y="826.8" width="0.8" height="1.48" fill="#666"/>
<rect x="456.5" y="825.13" width="0.8" height="1.67" fill="#555"/>
<rect x="458.5" y="826.8" width="0.8" height="1" fill="#2233dd"/>
<rect x="459.5" y="826.27" width="0.8" height="0.53" fill="#555"/>
<rect x="460.5" y="826.3" width="0.8" height="0.5" fill="#555"/>
<rect x="462.5" y="826.8" width="0.8" height="1.18" fill="#2233dd"/>
<rect x="464.5" y="826.21" width="0.8" height="0.59" fill="#ee1c24"/>
<rect x="464.5" y="826.8" width="0.8" height="0.43" fill="#2233dd"/>
<rect x="467.5" y="825.13" width="0.8" height="1.67" fill="#555"/>
<rect x="471.5" y="826.3" width="0.8" height="0.5" fill="#ee1c24"/>
<rect x="472.5" y="826.24" width="0.8" height="0.56" fill="#ee1c24"/>
<rect x="473.5" y="826.3" width="0.8" height="0.5" fill="#ee1c24"/>
<rect x="476.5" y="825.5" width="0.8" height="1.3" fill="#ee1c24"/>
<rect x="481.5" y="826.8" width="0.8" height="1.09" fill="#666"/>
<rect x="482.5" y="826.28" width="0.8" height="0.52" fill="#555"/>
<rect x="483.5" y="825.69" width="0.8" height="1.11" fill="#ee1c24"/>
<rect x="484.5" y="825.19" width="0.8" height="1.61" fill="#555"/>
<rect x="484.5" y="826.8" width="0.8" height="0.8" fill="#2233dd"/>
<rect x="485.5" y="825.56" width="0.8" height="1.24" fill="#555"/>
<rect x="485.5" y="826.8" width="0.8" height="0.77" fill="#2233dd"/>
<rect x="486.5" y="825.91" width="0.8" height="0.89" fill="#ee1c24"/>
<rect x="487.5" y="825.94" width="0.8" height="0.86" fill="#ee1c24"/>
<rect x="487.5" y="826.8" width="0.8" height="0.92" fill="#2233dd"/>
<rect x="489.5" y="825.31" width="0.8" height="1.49" fill="#ee1c24"/>
<rect x="490.5" y="826.8" width="0.8" height="1.04" fill="#666"/>
<rect x="493.5" y="826.29" width="0.8" height="0.51" fill="#ee1c24"/>
<rect x="494.5" y="825.66" width="0.8" height="1.14" fill="#ee1c24"/>
<rect x="495.5" y="824.9" width="0.8" height="1.9" fill="#ee1c24"/>
<rect x="496.5" y="825.8" width="0.8" height="1" fill="#ee1c24"/>
<rect x="497.5" y="824.94" width="0.8" height="1.86" fill="#ee1c24"/>
<rect x="498.5" y="825.48" width="0.8" height="1.32" fill="#555"/>
<rect x="498.5" y="826.8" width="0.8" height="1.2" fill="#666"/>
<rect x="499.5" y="825.73" width="0.8" height="1.07" fill="#555"/>
<rect x="500.5" y="825.5" width="0.8" height="1.3" fill="#ee1c24"/>
<rect x="502.5" y="825.98" width="0.8" height="0.82" fill="#ee1c24"/>
<rect x="502.5" y="826.8" width="0.8" height="0.81" fill="#666"/>
<rect x="503.5" y="826.3" width="0.8" height="0.5" fill="#555"/>
<rect x="504.5" y="826.29" width="0.8" height="0.51" fill="#555"/>
<rect x="505.5" y="825.24" width="0.8" height="1.56" fill="#ee1c24"/>
<rect x="506.5" y="826.09" width="0.8" height="0.71" fill="#555"/>
<rect x="508.5" y="826.8" width="0.8" height="0.68" fill="#666"/>
<rect x="510.5" y="825.76" width="0.8" height="1.04" fill="#ee1c24"/>
<rect x="511.5" y="825.06" width="0.8" height="1.74" fill="#ee1c24"/>
<rect x="513.5" y="825.82" width="0.8" height="0.98" fill="#555"/>
<rect x="515.5" y="826.28" width="0.8" height="0.52" fill="#555"/>
<rect x="517.5" y="826.8" width="0.8" height="1.14" fill="#666"/>
<rect x="519.5" y="826.8" width="0.8" height="0.54" fill="#2233dd"/>
<rect x="520.5" y="825.75" width="0.8" height="1.05" fill="#ee1c24"/>
<rect x="522.5" y="825.71" width="0.8" height="1.09" fill="#555"/>
<rect x="524.5" y="825.65" width="0.8" height="1.15" fill="#ee1c24"/>
<rect x="525.5" y="825.22" width="0.8" height="1.58" fill="#555"/>
<rect x="526.5" y="825.49" width="0.8" height="1.31" fill="#555"/>
<rect x="527.5" y="826.18" width="0.8" height="0.62" fill="#555"/>
<rect x="528.5" y="826.1" width="0.8" height="0.7" fill="#ee1c24"/>
<rect x="528.5" y="826.8" width="0.8" height="0.59" fill="#2233dd"/>
<rect x="529.5" y="825.91" width="0.8" height="0.89" fill="#555"/>
<rect x="530.5" y="826.07" width="0.8" height="0.73" fill="#ee1c24"/>
<rect x="531.5" y="826.01" width="0.8" height="0.79" fill="#555"/>
<rect x="534.5" y="825.05" width="0.8" height="1.75" fill="#555"/>
<rect x="534.5" y="826.8" width="0.8" height="0.52" fill="#2233dd"/>
<rect x="536.5" y="826.15" width="0.8" height="0.65" fill="#555"/>
<rect x="538.5" y="825.84" width="0.8" height="0.96" fill="#555"/>
<rect x="539.5" y="825.66" width="0.8" height="1.14" fill="#555"/>
<rect x="539.5" y="826.8" width="0.8" height="0.4" fill="#2233dd"/>
<rect x="540.5" y="826.15" width="0.8" height="0.65" fill="#ee1c24"/>
<rect x="540.5" y="826.8" width="0.8" height="0.96" fill="#2233dd"/>
<rect x="544.5" y="824.92" width="0.8" height="1.88" fill="#555"/>
<rect x="546.5" y="826.8" width="0.8" height="1.43" fill="#2233dd"/>
<rect x="547.5" y="826.12" width="0.8" height="0.68" fill="#ee1c24"/>
<rect x="547.5" y="826.8" width="0.8" height="0.71" fill="#666"/>
<rect x="550.5" y="826.26" width="0.8" height="0.54" fill="#555"/>
<rect x="551.5" y="825.7" width="0.8" height="1.1" fill="#ee1c24"/>
<rect x="552.5" y="825.93" width="0.8" height="0.87" fill="#ee1c24"/>
<rect x="553.5" y="826.8" width="0.8" height="0.5" fill="#666"/>
<rect x="554.5" y="826.3" width="0.8" height="0.5" fill="#555"/>
<rect x="557.5" y="825.52" width="0.8" height="1.28" fill="#ee1c24"/>
<rect x="558.5" y="826.24" width="0.8" height="0.56" fill="#ee1c24"/>
<rect x="559.5" y="826.8" width="0.8" height="0.51" fill="#2233dd"/>
<rect x="560.5" y="825.75" width="0.8" height="1.05" fill="#555"/>
<rect x="561.5" y="825.53" width="0.8" height="1.27" fill="#555"/>
<rect x="562.5" y="824.92" width="0.8" height="1.88" fill="#ee1c24"/>
<rect x="564.5" y="826.28" width="0.8" height="0.52" fill="#555"/>
<rect x="564.5" y="826.8" width="0.8" height="0.4" fill="#666"/>
<rect x="566.5" y="824.83" width="0.8" height="1.97" fill="#555"/>
<rect x="566.5" y="826.8" width="0.8" height="0.82" fill="#2233dd"/>
<rect x="567.5" y="825.7" width="0.8" height="1.1" fill="#555"/>
<rect x="567.5" y="826.8" width="0.8" height="1.24" fill="#666"/>
<rect x="568.5" y="825.01" width="0.8" height="1.79" fill="#ee1c24"/>
<rect x="569.5" y="826.25" width="0.8" height="0.55" fill="#ee1c24"/>
<rect x="570.5" y="824.8" width="0.8" height="2" fill="#555"/>
<rect x="570.5" y="826.8" width="0.8" height="0.41" fill="#2233dd"/>
<rect x="576.5" y="826.29" width="0.8" height="0.51" fill="#555"/>
<rect x="579.5" y="824.93" width="0.8" height="1.87" fill="#555"/>
<rect x="580.5" y="825.91" width="0.8" height="0.89" fill="#ee1c24"/>
<rect x="581.5" y="826" width="0.8" height="0.8" fill="#555"/>
<rect x="583.5" y="825.6" width="0.8" height="1.2" fill="#555"/>
<rect x="583.5" y="826.8" width="0.8" height="0.59" fill="#2233dd"/>
<rect x="585.5" y="825.01" width="0.8" height="1.79" fill="#ee1c24"/>
<rect x="585.5" y="826.8" width="0.8" height="0.41" fill="#2233dd"/>
<rect x="586.5" y="826.29" width="0.8" height="0.51" fill="#555"/>
<rect x="586.5" y="826.8" width="0.8" height="0.64" fill="#666"/>
<rect x="587.5" y="826.16" width="0.8" height="0.64" fill="#ee1c24"/>
<rect x="589.5" y="825.56" width="0.8" height="1.24" fill="#555"/>
<rect x="591.5" y="826" width="0.8" height="0.8" fill="#555"/>
<rect x="592.5" y="826.8" width="0.8" height="0.45" fill="#2233dd"/>
<rect x="593.5" y="824.85" width="0.8" height="1.95" fill="#ee1c24"/>
<rect x="594.5" y="826.19" width="0.8" height="0.61" fill="#ee1c24"/>
<rect x="594.5" y="826.8" width="0.8" height="0.92" fill="#666"/>
<rect x="595.5" y="824.8" width="0.8" height="2" fill="#ee1c24"/>
<rect x="596.5" y="826.8" width="0.8" height="0.4" fill="#2233dd"/>
<rect x="597.5" y="826.26" width="0.8" height="0.54" fill="#ee1c24"/>
<rect x="597.5" y="826.8" width="0.8" height="0.45" fill="#2233dd"/>
<rect x="599.5" y="826.8" width="0.8" height="0.8" fill="#666"/>
<rect x="600.5" y="825.45" width="0.8" height="1.35" fill="#ee1c24"/>
<rect x="604.5" y="826.18" width="0.8" height="0.62" fill="#555"/>
<rect x="605.5" y="825.58" width="0.8" height="1.22" fill="#ee1c24"/>
<rect x="611.5" y="826.8" width="0.8" height="0.4" fill="#2233dd"/>
<rect x="612.5" y="825.13" width="0.8" height="1.67" fill="#ee1c24"/>
<rect x="613.5" y="825.6" width="0.8" height="1.2" fill="#ee1c24"/>
<rect x="614.5" y="826.21" width="0.8" height="0.59" fill="#555"/>
<rect x="614.5" y="826.8" width="0.8" height="0.95" fill="#666"/>
<rect x="615.5" y="826.2" width="0.8" height="0.6" fill="#ee1c24"/>
<rect x="615.5" y="826.8" width="0.8" height="0.9" fill="#666"/>
<rect x="616.5" y="825.53" width="0.8" height="1.27" fill="#555"/>
<rect x="617.5" y="825.02" width="0.8" height="1.78" fill="#ee1c24"/>
<rect x="618.5" y="826.14" width="0.8" height="0.66" fill="#ee1c24"/>
<rect x="619.5" y="825.71" width="0.8" height="1.09" fill="#ee1c24"/>
<rect x="620.5" y="826.14" width="0.8" height="0.66" fill="#ee1c24"/>
<rect x="621.5" y="826.12" width="0.8" height="0.68" fill="#555"/>
<rect x="625.5" y="825.38" width="0.8" height="1.42" fill="#ee1c24"/>
<rect x="626.5" y="826.26" width="0.8" height="0.54" fill="#555"/>
<rect x="626.5" y="826.8" width="0.8" height="0.41" fill="#666"/>
<rect x="630.5" y="826.26" width="0.8" height="0.54" fill="#555"/>
<rect x="632.5" y="826.26" width="0.8" height="0.54" fill="#555"/>
<rect x="632.5" y="826.8" width="0.8" height="0.58" fill="#666"/>
<rect x="633.5" y="826.06" width="0.8" height="0.74" fill="#ee1c24"/>
<rect x="634.5" y="825.47" width="0.8" height="1.33" fill="#ee1c24"/>
<rect x="635.5" y="825.04" width="0.8" height="1.76" fill="#ee1c24"/>
<rect x="636.5" y="826.07" width="0.8" height="0.73" fill="#ee1c24"/>
<rect x="637.5" y="824.71" width="0.8" height="2.09" fill="#ee1c24"/>
<rect x="637.5" y="826.8" width="0.8" height="1.1" fill="#666"/>
<rect x="641.5" y="825.88" width="0.8" height="0.92" fill="#555"/>
<rect x="642.5" y="825.92" width="0.8" height="0.88" fill="#555"/>
<rect x="642.5" y="826.8" width="0.8" height="0.96" fill="#666"/>
<rect x="644.5" y="825.62" width="0.8" height="1.18" fill="#555"/>
<rect x="644.5" y="826.8" width="0.8" height="1.19" fill="#666"/>
<rect x="646.5" y="826.8" width="0.8" height="0.43" fill="#2233dd"/>
<rect x="647.5" y="826.22" width="0.8" height="0.58" fill="#555"/>
<rect x="647.5" y="826.8" width="0.8" height="0.42" fill="#666"/>
<rect x="649.5" y="824.92" width="0.8" height="1.88" fill="#555"/>
<rect x="654.5" y="825.93" width="0.8" height="0.87" fill="#555"/>
<rect x="656.5" y="826.01" width="0.8" height="0.79" fill="#ee1c24"/>
<rect x="656.5" y="826.8" width="0.8" height="0.67" fill="#2233dd"/>
<rect x="659.5" y="826.8" width="0.8" height="0.68" fill="#666"/>
<rect x="661.5" y="826.8" width="0.8" height="0.71" fill="#666"/>
<rect x="662.5" y="825.87" width="0.8" height="0.93" fill="#ee1c24"/>
<rect x="662.5" y="826.8" width="0.8" height="1.47" fill="#666"/>
<rect x="666.5" y="826.23" width="0.8" height="0.57" fill="#ee1c24"/>
<rect x="667.5" y="824.86" width="0.8" height="1.94" fill="#ee1c24"/>
<rect x="668.5" y="826.3" width="0.8" height="0.5" fill="#555"/>
<rect x="668.5" y="826.8" width="0.8" height="0.61" fill="#666"/>
<polygon points="385.8,826.8 385.8,826.8 386.3,821.8 386.8,823.35 387.3,815.7 387.8,819.33 388.3,820.8 388.8,823.59 389.3,822.3 389.8,823.66 390.3,824.77 390.8,823.8 391.3,824.88 391.8,825.18 392.3,824.47 392.8,825.37 393.3,825.49 393.8,825.3 394.3,826.8 394.3,826.8" fill="#ee1c24" stroke="#333" stroke-width="0.35" stroke-linejoin="miter"/>
<polygon points="410.8,826.8 410.8,826.8 411.3,822 411.8,825.06 412.3,825.1 412.8,824.41 413.3,825.51 413.8,826.8 414,826.8" fill="#ee1c24" stroke="#333" stroke-width="0.35" stroke-linejoin="miter"/>
<polygon points="424.8,826.8 424.8,826.8 425.3,823.8 425.8,823.88 426.3,824.45 426.8,824.5 427.3,824.67 427.8,824.3 428.3,824.39 428.8,824.09 429.3,825.06 429.8,823.3 430.3,823.21 430.8,824.83 431.3,822.83 431.8,825.13 432.3,822.75 432.8,821.96 433.3,824.34 433.8,821.5 434.3,826.01 434.8,826.8 435,826.8" fill="#ee1c24" stroke="#333" stroke-width="0.35" stroke-linejoin="miter"/>
<polygon points="492.6,826.8 492.6,826.8 493.1,816.8 493.6,793.9 494.1,815.15 494.6,814.8 495.1,816.21 495.6,803.1 496.1,817.8 496.6,819.74 497.1,813.6 497.6,818.95 498.1,818.8 498.6,813.46 499.1,813.81 499.6,799.2 500.1,819.97 500.6,816.8 501.1,818.11 501.6,816.71 502.1,813.6 502.6,817.99 503.1,820.8 503.6,822.46 504.1,823.92 504.6,824.6 505.1,824.8 505.5,826.8" fill="#ee1c24" stroke="#333" stroke-width="0.35" stroke-linejoin="miter"/>
<polygon points="544.2,826.8 544.2,826.8 544.7,824.5 545.2,821.5 545.7,822.9 546.2,823.24 546.7,824.78 547.2,823.8 547.7,825.66 548.2,825.34 548.7,825.61 549.2,825.57 549.7,825.8 550,826.8" fill="#ee1c24" stroke="#333" stroke-width="0.35" stroke-linejoin="miter"/>
<polygon points="561.5,826.8 561.5,826.8 562,823.89 562.5,821 563,825.56 563.5,825.8 564,826.8 564,826.8" fill="#ee1c24" stroke="#333" stroke-width="0.35" stroke-linejoin="miter"/>
<polygon points="590.5,826.8 590.5,826.8 591,825.99 591.5,824.8 592,820.98 592.5,811 593,817.14 593.5,822.8 594,824.62 594.5,825.74 595,825.3 595.5,826.8 595.5,826.8" fill="#ee1c24" stroke="#333" stroke-width="0.35" stroke-linejoin="miter"/>
<polygon points="611.2,826.8 611.2,826.8 611.7,816.3 612.2,821.21 612.7,818.21 613.2,817.8 613.7,821.67 614.2,818.8 614.7,816.98 615.2,809.7 615.7,820.15 616.2,822.71 616.7,817.8 617.2,823.42 617.7,824.02 618.2,826.8 618.3,826.8" fill="#ee1c24" stroke="#333" stroke-width="0.35" stroke-linejoin="miter"/>
<polygon points="666.4,826.8 666.4,826.8 666.9,821.8 667.4,823.08 667.9,820.98 668.4,817.6 668.9,822.62 669.4,821.8 669.7,826.8" fill="#ee1c24" stroke="#333" stroke-width="0.35" stroke-linejoin="miter"/>
<polygon points="646.8,826.8 646.8,826.8 647.3,825.85 647.8,824.3 648.3,825.77 648.8,824.28 649.3,825.28 649.8,823.8 650.3,825.49 650.8,824.48 651.3,824.66 651.8,824.91 652.3,825.24 652.8,825.3 653.3,826.8 653.3,826.8" fill="#ee1c24" stroke="#333" stroke-width="0.35" stroke-linejoin="miter"/>
<polygon points="489.6,826.8 489.6,826.8 490.1,827.78 490.6,829.8 491.1,828.94 491.6,829.89 492.1,832 492.6,830.97 493.1,829.41 493.6,830.8 494.1,829.08 494.6,827.51 495,826.8" fill="#2030dd" stroke="#333" stroke-width="0.35" stroke-linejoin="miter"/>
<polygon points="612.5,826.8 612.5,826.8 613,832.8 613.5,831.47 614,831.47 614.5,837.3 615,830.47 615.5,833.8 616,831.58 616.5,829.8 617,826.8 617,826.8" fill="#2030dd" stroke="#333" stroke-width="0.35" stroke-linejoin="miter"/>
<polygon points="524.2,826.8 524.2,826.8 524.7,829.4 525.2,826.8 525.2,826.8" fill="#2030dd" stroke="#333" stroke-width="0.35" stroke-linejoin="miter"/>
<polygon points="561,826.8 561,826.8 561.5,829.5 562,826.8 562,826.8" fill="#2030dd" stroke="#333" stroke-width="0.35" stroke-linejoin="miter"/>
<polygon points="634.5,826.8 634.5,826.8 635,829.4 635.5,826.8 635.5,826.8" fill="#2030dd" stroke="#333" stroke-width="0.35" stroke-linejoin="miter"/>
<polygon points="662.6,826.8 662.6,826.8 663.1,827.7 663.6,827.85 664.1,829.4 664.6,829.07 665.1,827.99 665.6,829.07 666.1,829.06 666.6,827.99 667.1,827.87 667.6,827.72 668.1,828.8 668.5,826.8" fill="#2030dd" stroke="#333" stroke-width="0.35" stroke-linejoin="miter"/>
<polygon points="386,826.8 386,826.8 386.5,829.8 387,826.8 387,826.8" fill="#2030dd" stroke="#333" stroke-width="0.35" stroke-linejoin="miter"/>
<text x="160.5" y="741" font-size="12" fill="#231f20">50</text>
<text x="160.5" y="804.2" font-size="12" fill="#231f20">50</text>
<text x="160.3" y="789.2" font-size="12" fill="#231f20">−50</text>
<text x="160.3" y="857" font-size="12" fill="#231f20">−50</text>
<text x="33" y="767" font-size="12" fill="#231f20">(ii)</text>
<text x="98.2" y="762.8" font-size="12" fill="#231f20" text-anchor="middle">Pre-rearranged</text>
<text x="98.2" y="776.9" font-size="12" fill="#231f20" text-anchor="middle">Vκ5-37/Jκ1</text>
<text x="33" y="830.3" font-size="12" fill="#231f20">(iii)</text>
<text x="98.2" y="819.6" font-size="12" fill="#231f20" text-anchor="middle">Vκ18-36</text>
<text x="98.2" y="833.5" font-size="12" fill="#231f20" text-anchor="middle">promoter</text>
<text x="98.2" y="847.6" font-size="12" fill="#231f20" text-anchor="middle">deletion/</text>
<line x1="189.8" y1="859.5" x2="189.8" y2="869.2" stroke="#555" stroke-width="0.9"/>
<line x1="257.9" y1="859.5" x2="257.9" y2="869.2" stroke="#555" stroke-width="0.9"/>
<line x1="326" y1="859.5" x2="326" y2="869.2" stroke="#555" stroke-width="0.9"/>
<line x1="394.3" y1="859.5" x2="394.3" y2="869.2" stroke="#555" stroke-width="0.9"/>
<line x1="462.4" y1="859.5" x2="462.4" y2="869.2" stroke="#555" stroke-width="0.9"/>
<line x1="530.4" y1="859.5" x2="530.4" y2="869.2" stroke="#555" stroke-width="0.9"/>
<line x1="598.5" y1="859.5" x2="598.5" y2="869.2" stroke="#555" stroke-width="0.9"/>
<line x1="667.3" y1="859.5" x2="667.3" y2="869.2" stroke="#555" stroke-width="0.9"/>
<text x="354.6" y="884.5" font-size="12" fill="#231f20">Chr. 6:69938855–70660930</text>
<line x1="598.5" y1="877" x2="598.5" y2="886.5" stroke="#222" stroke-width="0.9"/>
<line x1="667.3" y1="877" x2="667.3" y2="886.5" stroke="#222" stroke-width="0.9"/>
<line x1="612.5" y1="881.3" x2="602.7" y2="881.3" stroke="#222" stroke-width="0.9"/>
<polygon points="599.2,881.3 603.2,879.3 603.2,883.3" fill="#222"/>
<line x1="652" y1="881.3" x2="663.1" y2="881.3" stroke="#222" stroke-width="0.9"/>
<polygon points="666.6,881.3 662.6,883.3 662.6,879.3" fill="#222"/>
<text x="614.2" y="885.5" font-size="12" fill="#231f20">100 kb</text>
</svg></body></html>
